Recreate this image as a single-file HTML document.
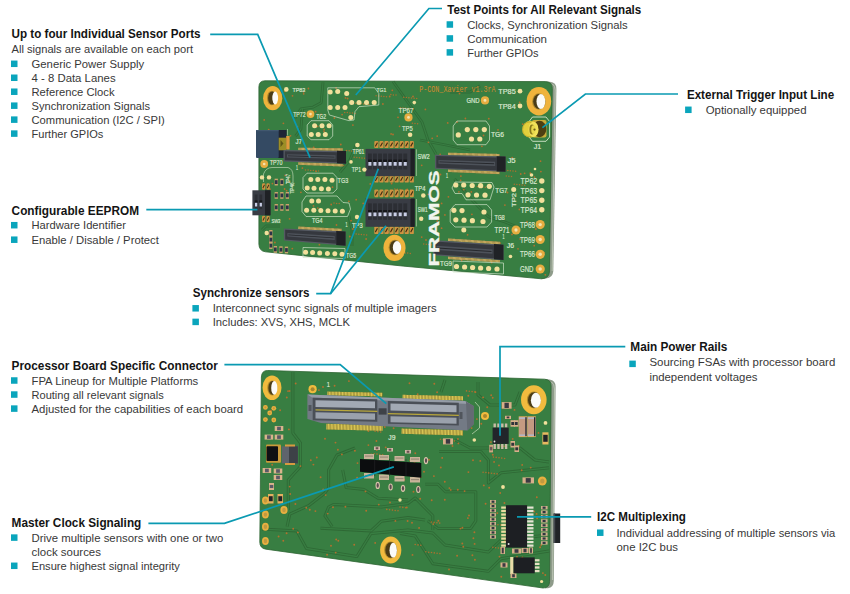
<!DOCTYPE html>
<html><head><meta charset="utf-8"><style>
html,body{margin:0;padding:0;background:#fff;}
body{width:850px;height:594px;overflow:hidden;}
svg{display:block;font-family:"Liberation Sans",sans-serif;}
</style></head><body>
<svg width="850" height="594" viewBox="0 0 850 594">
<path d="M546,81.6 L550,81.7 Q556.5,82.2 556.4,89 L553.3,271 Q553,277.5 546,278.6 L541,279 Z" fill="#8e9b8a"/>
<path d="M552.5,84 Q555.3,86 555.2,90 L552.2,271" fill="none" stroke="#bfc8b8" stroke-width="0.9"/>
<path d="M265,80.8 L545,81.6 Q552.4,81.8 552.3,88.5 L549.4,272 Q549,278.3 541.5,278.8 Q403,266.9 265.5,251.8 Q259,251 258.9,244 L258.9,87 Q259,80.8 265,80.8 Z" fill="#387e42" stroke="#2d6432" stroke-width="0.8"/>
<g fill="none" stroke="#2c6231" stroke-width="2.8" stroke-linejoin="round" opacity="0.7"><path d="M393,81.5 L412,108 L422,122 L428,140 L436,154"/><path d="M323,82.4 L321.2,102.7 L313.2,107.1 L300.9,108.9 L295,118"/><path d="M302.6,108 L300.9,129.2 L295.6,136.2"/><path d="M454.6,179 L470,198 L488.5,216.8 L505,222 L520,228"/><path d="M349,216 L352,230 L352,246"/><path d="M480,86 L470,92 L450,92"/><path d="M262,230 L266,226 L280,226"/><path d="M356,145 L350,160 L340,172"/><path d="M420,140 L446,145 L470,150"/></g>
<g fill="none" stroke="#387e42" stroke-width="1.2" stroke-linejoin="round"><path d="M393,81.5 L412,108 L422,122 L428,140 L436,154"/><path d="M323,82.4 L321.2,102.7 L313.2,107.1 L300.9,108.9 L295,118"/><path d="M302.6,108 L300.9,129.2 L295.6,136.2"/><path d="M454.6,179 L470,198 L488.5,216.8 L505,222 L520,228"/><path d="M349,216 L352,230 L352,246"/><path d="M480,86 L470,92 L450,92"/><path d="M262,230 L266,226 L280,226"/><path d="M356,145 L350,160 L340,172"/><path d="M420,140 L446,145 L470,150"/></g>
<circle cx="391.6" cy="183.5" r="0.9" fill="#c06f2c" opacity="0.9"/>
<circle cx="524.6" cy="173.3" r="0.9" fill="#c06f2c" opacity="0.9"/>
<circle cx="407.2" cy="189.3" r="0.9" fill="#c06f2c" opacity="0.9"/>
<circle cx="316.1" cy="171.3" r="0.9" fill="#c06f2c" opacity="0.9"/>
<circle cx="441.6" cy="228.2" r="0.9" fill="#c06f2c" opacity="0.9"/>
<circle cx="290.5" cy="135.8" r="0.9" fill="#c06f2c" opacity="0.9"/>
<circle cx="289.6" cy="218.8" r="0.9" fill="#c06f2c" opacity="0.9"/>
<circle cx="459.5" cy="93.6" r="0.9" fill="#c06f2c" opacity="0.9"/>
<circle cx="541.0" cy="268.5" r="0.9" fill="#c06f2c" opacity="0.9"/>
<circle cx="448.4" cy="196.8" r="0.9" fill="#c06f2c" opacity="0.9"/>
<circle cx="308.4" cy="88.5" r="0.9" fill="#c06f2c" opacity="0.9"/>
<circle cx="413.0" cy="96.5" r="0.9" fill="#c06f2c" opacity="0.9"/>
<circle cx="317.6" cy="126.4" r="0.9" fill="#c06f2c" opacity="0.9"/>
<circle cx="272.5" cy="161.3" r="0.9" fill="#c06f2c" opacity="0.9"/>
<circle cx="388.2" cy="232.5" r="0.9" fill="#c06f2c" opacity="0.9"/>
<circle cx="410.4" cy="198.8" r="0.9" fill="#c06f2c" opacity="0.9"/>
<circle cx="404.9" cy="202.3" r="0.9" fill="#c06f2c" opacity="0.9"/>
<circle cx="393.0" cy="134.5" r="0.9" fill="#c06f2c" opacity="0.9"/>
<circle cx="545.3" cy="274.8" r="0.9" fill="#c06f2c" opacity="0.9"/>
<circle cx="500.9" cy="217.1" r="0.9" fill="#c06f2c" opacity="0.9"/>
<circle cx="352.9" cy="125.1" r="0.9" fill="#c06f2c" opacity="0.9"/>
<circle cx="345.5" cy="97.9" r="0.9" fill="#c06f2c" opacity="0.9"/>
<circle cx="480.1" cy="159.3" r="0.9" fill="#c06f2c" opacity="0.9"/>
<circle cx="502.7" cy="157.6" r="0.9" fill="#c06f2c" opacity="0.9"/>
<circle cx="534.2" cy="245.7" r="0.9" fill="#c06f2c" opacity="0.9"/>
<circle cx="264.2" cy="119.9" r="0.9" fill="#c06f2c" opacity="0.9"/>
<circle cx="520.7" cy="174.0" r="0.9" fill="#c06f2c" opacity="0.9"/>
<circle cx="540.5" cy="161.2" r="0.9" fill="#c06f2c" opacity="0.9"/>
<circle cx="284.6" cy="189.0" r="0.9" fill="#c06f2c" opacity="0.9"/>
<circle cx="483.5" cy="135.5" r="0.9" fill="#c06f2c" opacity="0.9"/>
<circle cx="288.6" cy="140.5" r="0.9" fill="#c06f2c" opacity="0.9"/>
<circle cx="535.9" cy="229.0" r="0.9" fill="#c06f2c" opacity="0.9"/>
<circle cx="297.3" cy="126.6" r="0.9" fill="#c06f2c" opacity="0.9"/>
<circle cx="292.5" cy="95.8" r="0.9" fill="#c06f2c" opacity="0.9"/>
<circle cx="488.8" cy="118.7" r="0.9" fill="#c06f2c" opacity="0.9"/>
<circle cx="421.7" cy="165.3" r="0.9" fill="#c06f2c" opacity="0.9"/>
<circle cx="317.8" cy="208.1" r="0.9" fill="#c06f2c" opacity="0.9"/>
<circle cx="300.9" cy="192.3" r="0.9" fill="#c06f2c" opacity="0.9"/>
<circle cx="296.9" cy="155.3" r="0.9" fill="#c06f2c" opacity="0.9"/>
<circle cx="324.0" cy="131.2" r="0.9" fill="#c06f2c" opacity="0.9"/>
<circle cx="537.8" cy="237.7" r="0.9" fill="#c06f2c" opacity="0.9"/>
<circle cx="349.8" cy="236.5" r="0.9" fill="#c06f2c" opacity="0.9"/>
<circle cx="323.4" cy="152.0" r="0.9" fill="#c06f2c" opacity="0.9"/>
<circle cx="504.9" cy="205.1" r="0.9" fill="#c06f2c" opacity="0.9"/>
<circle cx="292.3" cy="248.6" r="0.9" fill="#c06f2c" opacity="0.9"/>
<circle cx="324.1" cy="129.3" r="0.9" fill="#c06f2c" opacity="0.9"/>
<circle cx="481.9" cy="146.3" r="0.9" fill="#c06f2c" opacity="0.9"/>
<circle cx="347.6" cy="98.5" r="0.9" fill="#c06f2c" opacity="0.9"/>
<circle cx="289.4" cy="181.6" r="0.9" fill="#c06f2c" opacity="0.9"/>
<circle cx="332.5" cy="187.2" r="0.9" fill="#c06f2c" opacity="0.9"/>
<circle cx="368.8" cy="163.9" r="0.9" fill="#c06f2c" opacity="0.9"/>
<circle cx="534.5" cy="177.2" r="0.9" fill="#c06f2c" opacity="0.9"/>
<circle cx="426.0" cy="240.0" r="0.9" fill="#c06f2c" opacity="0.9"/>
<circle cx="315.6" cy="111.7" r="0.9" fill="#c06f2c" opacity="0.9"/>
<circle cx="520.2" cy="239.0" r="0.9" fill="#c06f2c" opacity="0.9"/>
<circle cx="334.4" cy="118.0" r="0.9" fill="#c06f2c" opacity="0.9"/>
<circle cx="472.5" cy="257.5" r="0.9" fill="#c06f2c" opacity="0.9"/>
<circle cx="319.4" cy="244.7" r="0.9" fill="#c06f2c" opacity="0.9"/>
<circle cx="512.8" cy="198.5" r="0.9" fill="#c06f2c" opacity="0.9"/>
<circle cx="382.9" cy="104.0" r="0.9" fill="#c06f2c" opacity="0.9"/>
<circle cx="274.9" cy="242.5" r="0.9" fill="#c06f2c" opacity="0.9"/>
<circle cx="331.2" cy="204.5" r="0.9" fill="#c06f2c" opacity="0.9"/>
<circle cx="336.5" cy="225.0" r="0.9" fill="#c06f2c" opacity="0.9"/>
<circle cx="432.2" cy="138.3" r="0.9" fill="#c06f2c" opacity="0.9"/>
<circle cx="313.5" cy="205.9" r="0.9" fill="#c06f2c" opacity="0.9"/>
<circle cx="283.4" cy="123.3" r="0.9" fill="#c06f2c" opacity="0.9"/>
<circle cx="421.7" cy="237.1" r="0.9" fill="#c06f2c" opacity="0.9"/>
<circle cx="437.2" cy="136.1" r="0.9" fill="#c06f2c" opacity="0.9"/>
<circle cx="522.7" cy="124.2" r="0.9" fill="#c06f2c" opacity="0.9"/>
<circle cx="268.7" cy="129.6" r="0.9" fill="#c06f2c" opacity="0.9"/>
<circle cx="389.7" cy="96.5" r="0.9" fill="#c06f2c" opacity="0.9"/>
<circle cx="313.7" cy="147.4" r="0.9" fill="#c06f2c" opacity="0.9"/>
<circle cx="425.4" cy="109.4" r="0.9" fill="#c06f2c" opacity="0.9"/>
<circle cx="366.1" cy="239.0" r="0.9" fill="#c06f2c" opacity="0.9"/>
<circle cx="540.5" cy="210.3" r="0.9" fill="#c06f2c" opacity="0.9"/>
<circle cx="458.9" cy="191.8" r="0.9" fill="#c06f2c" opacity="0.9"/>
<circle cx="303.6" cy="91.8" r="0.9" fill="#c06f2c" opacity="0.9"/>
<circle cx="269.0" cy="233.5" r="0.9" fill="#c06f2c" opacity="0.9"/>
<circle cx="461.7" cy="260.5" r="0.9" fill="#c06f2c" opacity="0.9"/>
<circle cx="270.0" cy="189.1" r="0.9" fill="#c06f2c" opacity="0.9"/>
<circle cx="400.0" cy="213.9" r="0.9" fill="#c06f2c" opacity="0.9"/>
<circle cx="353.9" cy="256.4" r="0.9" fill="#c06f2c" opacity="0.9"/>
<circle cx="285.2" cy="175.4" r="0.9" fill="#c06f2c" opacity="0.9"/>
<circle cx="471.8" cy="250.1" r="0.9" fill="#c06f2c" opacity="0.9"/>
<circle cx="471.9" cy="214.3" r="0.9" fill="#c06f2c" opacity="0.9"/>
<circle cx="487.7" cy="254.2" r="0.9" fill="#c06f2c" opacity="0.9"/>
<circle cx="363.2" cy="203.4" r="0.9" fill="#c06f2c" opacity="0.9"/>
<circle cx="518.0" cy="248.8" r="0.9" fill="#c06f2c" opacity="0.9"/>
<circle cx="381.6" cy="223.0" r="0.9" fill="#c06f2c" opacity="0.9"/>
<circle cx="507.5" cy="192.5" r="0.9" fill="#c06f2c" opacity="0.9"/>
<circle cx="440.2" cy="154.5" r="0.9" fill="#c06f2c" opacity="0.9"/>
<circle cx="428.3" cy="194.3" r="0.9" fill="#c06f2c" opacity="0.9"/>
<circle cx="286.6" cy="190.7" r="0.9" fill="#c06f2c" opacity="0.9"/>
<circle cx="544.1" cy="252.7" r="0.9" fill="#c06f2c" opacity="0.9"/>
<circle cx="469.4" cy="156.7" r="0.9" fill="#c06f2c" opacity="0.9"/>
<circle cx="471.3" cy="191.9" r="0.9" fill="#c06f2c" opacity="0.9"/>
<circle cx="388.2" cy="231.8" r="0.9" fill="#c06f2c" opacity="0.9"/>
<circle cx="287.6" cy="208.9" r="0.9" fill="#c06f2c" opacity="0.9"/>
<circle cx="272.4" cy="183.6" r="0.9" fill="#c06f2c" opacity="0.9"/>
<circle cx="399.6" cy="126.3" r="0.9" fill="#c06f2c" opacity="0.9"/>
<circle cx="460.9" cy="176.1" r="0.9" fill="#c06f2c" opacity="0.9"/>
<circle cx="437.3" cy="250.6" r="0.9" fill="#c06f2c" opacity="0.9"/>
<circle cx="336.1" cy="87.9" r="0.9" fill="#c06f2c" opacity="0.9"/>
<circle cx="348.9" cy="201.3" r="0.9" fill="#c06f2c" opacity="0.9"/>
<circle cx="321.1" cy="114.4" r="0.9" fill="#c06f2c" opacity="0.9"/>
<circle cx="519.4" cy="209.4" r="0.9" fill="#c06f2c" opacity="0.9"/>
<circle cx="388.6" cy="241.1" r="0.9" fill="#c06f2c" opacity="0.9"/>
<circle cx="356.2" cy="199.7" r="0.9" fill="#c06f2c" opacity="0.9"/>
<circle cx="320.0" cy="158.0" r="0.9" fill="#c06f2c" opacity="0.9"/>
<circle cx="491.3" cy="254.4" r="0.9" fill="#c06f2c" opacity="0.9"/>
<circle cx="512.2" cy="157.6" r="0.9" fill="#c06f2c" opacity="0.9"/>
<circle cx="428.4" cy="142.3" r="0.9" fill="#c06f2c" opacity="0.9"/>
<circle cx="302.4" cy="168.1" r="0.9" fill="#c06f2c" opacity="0.9"/>
<circle cx="500.1" cy="243.1" r="0.9" fill="#c06f2c" opacity="0.9"/>
<circle cx="464.6" cy="258.5" r="0.9" fill="#c06f2c" opacity="0.9"/>
<circle cx="342.1" cy="114.6" r="0.9" fill="#c06f2c" opacity="0.9"/>
<circle cx="391.1" cy="133.9" r="0.9" fill="#c06f2c" opacity="0.9"/>
<circle cx="324.4" cy="155.4" r="0.9" fill="#c06f2c" opacity="0.9"/>
<circle cx="440.5" cy="174.5" r="0.9" fill="#c06f2c" opacity="0.9"/>
<circle cx="352.9" cy="229.0" r="0.9" fill="#c06f2c" opacity="0.9"/>
<circle cx="540.9" cy="171.6" r="0.9" fill="#c06f2c" opacity="0.9"/>
<circle cx="285.1" cy="91.2" r="0.9" fill="#c06f2c" opacity="0.9"/>
<circle cx="510.1" cy="93.7" r="0.9" fill="#c06f2c" opacity="0.9"/>
<circle cx="463.8" cy="189.6" r="0.9" fill="#c06f2c" opacity="0.9"/>
<circle cx="351.1" cy="220.7" r="0.9" fill="#c06f2c" opacity="0.9"/>
<circle cx="269.4" cy="108.0" r="0.9" fill="#c06f2c" opacity="0.9"/>
<circle cx="392.3" cy="90.3" r="0.9" fill="#c06f2c" opacity="0.9"/>
<circle cx="498.0" cy="129.9" r="0.9" fill="#c06f2c" opacity="0.9"/>
<circle cx="303.7" cy="93.8" r="0.9" fill="#c06f2c" opacity="0.9"/>
<circle cx="441.4" cy="166.0" r="0.9" fill="#c06f2c" opacity="0.9"/>
<circle cx="441.6" cy="203.4" r="0.9" fill="#c06f2c" opacity="0.9"/>
<circle cx="491.7" cy="262.6" r="0.9" fill="#c06f2c" opacity="0.9"/>
<circle cx="457.0" cy="122.0" r="0.9" fill="#c06f2c" opacity="0.9"/>
<circle cx="398.0" cy="117.3" r="0.9" fill="#c06f2c" opacity="0.9"/>
<circle cx="267.0" cy="162.4" r="0.9" fill="#c06f2c" opacity="0.9"/>
<circle cx="465.4" cy="118.5" r="0.9" fill="#c06f2c" opacity="0.9"/>
<circle cx="340.8" cy="144.5" r="0.9" fill="#c06f2c" opacity="0.9"/>
<circle cx="460.6" cy="180.3" r="0.9" fill="#c06f2c" opacity="0.9"/>
<circle cx="437.3" cy="221.2" r="0.9" fill="#c06f2c" opacity="0.9"/>
<circle cx="375.0" cy="222.7" r="0.9" fill="#c06f2c" opacity="0.9"/>
<circle cx="519.6" cy="102.3" r="0.9" fill="#c06f2c" opacity="0.9"/>
<circle cx="527.0" cy="221.7" r="0.9" fill="#c06f2c" opacity="0.9"/>
<circle cx="300.6" cy="160.9" r="0.9" fill="#c06f2c" opacity="0.9"/>
<circle cx="440.4" cy="249.0" r="0.9" fill="#c06f2c" opacity="0.9"/>
<circle cx="370.3" cy="183.9" r="0.9" fill="#c06f2c" opacity="0.9"/>
<circle cx="512.0" cy="234.4" r="0.9" fill="#c06f2c" opacity="0.9"/>
<circle cx="530.3" cy="173.2" r="0.9" fill="#c06f2c" opacity="0.9"/>
<circle cx="447.7" cy="122.9" r="0.9" fill="#c06f2c" opacity="0.9"/>
<circle cx="467.6" cy="234.8" r="0.9" fill="#c06f2c" opacity="0.9"/>
<circle cx="444.9" cy="214.9" r="0.9" fill="#c06f2c" opacity="0.9"/>
<circle cx="321.8" cy="230.6" r="0.75" fill="#c06f2c" opacity="0.85"/>
<circle cx="324.4" cy="230.9" r="0.75" fill="#c06f2c" opacity="0.85"/>
<circle cx="327.0" cy="231.1" r="0.75" fill="#c06f2c" opacity="0.85"/>
<circle cx="514.3" cy="184.3" r="0.75" fill="#c06f2c" opacity="0.85"/>
<circle cx="516.9" cy="184.5" r="0.75" fill="#c06f2c" opacity="0.85"/>
<circle cx="519.5" cy="184.8" r="0.75" fill="#c06f2c" opacity="0.85"/>
<circle cx="522.1" cy="185.0" r="0.75" fill="#c06f2c" opacity="0.85"/>
<circle cx="524.7" cy="185.3" r="0.75" fill="#c06f2c" opacity="0.85"/>
<circle cx="334.0" cy="203.1" r="0.75" fill="#c06f2c" opacity="0.85"/>
<circle cx="336.6" cy="203.4" r="0.75" fill="#c06f2c" opacity="0.85"/>
<circle cx="339.2" cy="203.6" r="0.75" fill="#c06f2c" opacity="0.85"/>
<circle cx="355.8" cy="103.2" r="0.75" fill="#c06f2c" opacity="0.85"/>
<circle cx="358.4" cy="103.5" r="0.75" fill="#c06f2c" opacity="0.85"/>
<circle cx="361.0" cy="103.7" r="0.75" fill="#c06f2c" opacity="0.85"/>
<circle cx="363.6" cy="104.0" r="0.75" fill="#c06f2c" opacity="0.85"/>
<circle cx="366.2" cy="104.2" r="0.75" fill="#c06f2c" opacity="0.85"/>
<circle cx="368.8" cy="104.5" r="0.75" fill="#c06f2c" opacity="0.85"/>
<circle cx="354.2" cy="157.2" r="0.75" fill="#c06f2c" opacity="0.85"/>
<circle cx="356.8" cy="157.5" r="0.75" fill="#c06f2c" opacity="0.85"/>
<circle cx="359.4" cy="157.7" r="0.75" fill="#c06f2c" opacity="0.85"/>
<circle cx="362.0" cy="158.0" r="0.75" fill="#c06f2c" opacity="0.85"/>
<circle cx="364.6" cy="158.2" r="0.75" fill="#c06f2c" opacity="0.85"/>
<circle cx="390.8" cy="94.6" r="0.75" fill="#c06f2c" opacity="0.85"/>
<circle cx="393.4" cy="94.9" r="0.75" fill="#c06f2c" opacity="0.85"/>
<circle cx="396.0" cy="95.1" r="0.75" fill="#c06f2c" opacity="0.85"/>
<circle cx="376.1" cy="95.7" r="0.75" fill="#c06f2c" opacity="0.85"/>
<circle cx="378.7" cy="95.9" r="0.75" fill="#c06f2c" opacity="0.85"/>
<circle cx="381.3" cy="96.2" r="0.75" fill="#c06f2c" opacity="0.85"/>
<circle cx="383.9" cy="96.4" r="0.75" fill="#c06f2c" opacity="0.85"/>
<circle cx="386.5" cy="96.7" r="0.75" fill="#c06f2c" opacity="0.85"/>
<circle cx="441.0" cy="244.1" r="0.75" fill="#c06f2c" opacity="0.85"/>
<circle cx="443.6" cy="244.3" r="0.75" fill="#c06f2c" opacity="0.85"/>
<circle cx="446.2" cy="244.6" r="0.75" fill="#c06f2c" opacity="0.85"/>
<circle cx="448.8" cy="244.8" r="0.75" fill="#c06f2c" opacity="0.85"/>
<circle cx="451.4" cy="245.1" r="0.75" fill="#c06f2c" opacity="0.85"/>
<circle cx="454.0" cy="245.3" r="0.75" fill="#c06f2c" opacity="0.85"/>
<circle cx="305.5" cy="169.9" r="0.75" fill="#c06f2c" opacity="0.85"/>
<circle cx="308.1" cy="170.1" r="0.75" fill="#c06f2c" opacity="0.85"/>
<circle cx="310.7" cy="170.4" r="0.75" fill="#c06f2c" opacity="0.85"/>
<circle cx="313.3" cy="170.6" r="0.75" fill="#c06f2c" opacity="0.85"/>
<circle cx="315.9" cy="170.9" r="0.75" fill="#c06f2c" opacity="0.85"/>
<circle cx="318.5" cy="171.1" r="0.75" fill="#c06f2c" opacity="0.85"/>
<circle cx="506.3" cy="176.1" r="0.75" fill="#c06f2c" opacity="0.85"/>
<circle cx="508.9" cy="176.3" r="0.75" fill="#c06f2c" opacity="0.85"/>
<circle cx="511.5" cy="176.6" r="0.75" fill="#c06f2c" opacity="0.85"/>
<circle cx="459.0" cy="164.7" r="0.75" fill="#c06f2c" opacity="0.85"/>
<circle cx="461.6" cy="165.0" r="0.75" fill="#c06f2c" opacity="0.85"/>
<circle cx="464.2" cy="165.2" r="0.75" fill="#c06f2c" opacity="0.85"/>
<circle cx="466.8" cy="165.5" r="0.75" fill="#c06f2c" opacity="0.85"/>
<circle cx="469.4" cy="165.7" r="0.75" fill="#c06f2c" opacity="0.85"/>
<circle cx="477.5" cy="186.5" r="0.75" fill="#c06f2c" opacity="0.85"/>
<circle cx="480.1" cy="186.7" r="0.75" fill="#c06f2c" opacity="0.85"/>
<circle cx="482.7" cy="187.0" r="0.75" fill="#c06f2c" opacity="0.85"/>
<circle cx="485.3" cy="187.2" r="0.75" fill="#c06f2c" opacity="0.85"/>
<circle cx="399.7" cy="228.4" r="0.75" fill="#c06f2c" opacity="0.85"/>
<circle cx="402.3" cy="228.7" r="0.75" fill="#c06f2c" opacity="0.85"/>
<circle cx="404.9" cy="228.9" r="0.75" fill="#c06f2c" opacity="0.85"/>
<circle cx="407.5" cy="229.2" r="0.75" fill="#c06f2c" opacity="0.85"/>
<circle cx="410.1" cy="229.4" r="0.75" fill="#c06f2c" opacity="0.85"/>
<circle cx="346.5" cy="150.5" r="0.75" fill="#c06f2c" opacity="0.85"/>
<circle cx="349.1" cy="150.8" r="0.75" fill="#c06f2c" opacity="0.85"/>
<circle cx="351.7" cy="151.0" r="0.75" fill="#c06f2c" opacity="0.85"/>
<circle cx="354.3" cy="151.3" r="0.75" fill="#c06f2c" opacity="0.85"/>
<circle cx="344.7" cy="112.4" r="0.75" fill="#c06f2c" opacity="0.85"/>
<circle cx="347.3" cy="112.6" r="0.75" fill="#c06f2c" opacity="0.85"/>
<circle cx="349.9" cy="112.9" r="0.75" fill="#c06f2c" opacity="0.85"/>
<circle cx="352.5" cy="113.1" r="0.75" fill="#c06f2c" opacity="0.85"/>
<circle cx="355.1" cy="113.4" r="0.75" fill="#c06f2c" opacity="0.85"/>
<circle cx="412.4" cy="123.2" r="0.75" fill="#c06f2c" opacity="0.85"/>
<circle cx="415.0" cy="123.5" r="0.75" fill="#c06f2c" opacity="0.85"/>
<circle cx="417.6" cy="123.7" r="0.75" fill="#c06f2c" opacity="0.85"/>
<circle cx="394.8" cy="189.0" r="0.75" fill="#c06f2c" opacity="0.85"/>
<circle cx="397.4" cy="189.3" r="0.75" fill="#c06f2c" opacity="0.85"/>
<circle cx="400.0" cy="189.5" r="0.75" fill="#c06f2c" opacity="0.85"/>
<circle cx="403.7" cy="97.2" r="0.75" fill="#c06f2c" opacity="0.85"/>
<circle cx="406.3" cy="97.5" r="0.75" fill="#c06f2c" opacity="0.85"/>
<circle cx="408.9" cy="97.7" r="0.75" fill="#c06f2c" opacity="0.85"/>
<circle cx="411.5" cy="98.0" r="0.75" fill="#c06f2c" opacity="0.85"/>
<circle cx="414.1" cy="98.2" r="0.75" fill="#c06f2c" opacity="0.85"/>
<circle cx="416.7" cy="98.5" r="0.75" fill="#c06f2c" opacity="0.85"/>
<circle cx="405.1" cy="252.9" r="0.75" fill="#c06f2c" opacity="0.85"/>
<circle cx="407.7" cy="253.1" r="0.75" fill="#c06f2c" opacity="0.85"/>
<circle cx="410.3" cy="253.4" r="0.75" fill="#c06f2c" opacity="0.85"/>
<circle cx="391.7" cy="202.8" r="0.75" fill="#c06f2c" opacity="0.85"/>
<circle cx="394.3" cy="203.1" r="0.75" fill="#c06f2c" opacity="0.85"/>
<circle cx="396.9" cy="203.3" r="0.75" fill="#c06f2c" opacity="0.85"/>
<circle cx="502.6" cy="170.0" r="0.75" fill="#c06f2c" opacity="0.85"/>
<circle cx="505.2" cy="170.3" r="0.75" fill="#c06f2c" opacity="0.85"/>
<circle cx="507.8" cy="170.5" r="0.75" fill="#c06f2c" opacity="0.85"/>
<circle cx="510.4" cy="170.8" r="0.75" fill="#c06f2c" opacity="0.85"/>
<circle cx="513.0" cy="171.0" r="0.75" fill="#c06f2c" opacity="0.85"/>
<circle cx="515.6" cy="171.3" r="0.75" fill="#c06f2c" opacity="0.85"/>
<circle cx="335.8" cy="164.6" r="0.75" fill="#c06f2c" opacity="0.85"/>
<circle cx="338.4" cy="164.9" r="0.75" fill="#c06f2c" opacity="0.85"/>
<circle cx="341.0" cy="165.1" r="0.75" fill="#c06f2c" opacity="0.85"/>
<circle cx="343.6" cy="165.4" r="0.75" fill="#c06f2c" opacity="0.85"/>
<circle cx="353.6" cy="233.7" r="0.75" fill="#c06f2c" opacity="0.85"/>
<circle cx="356.2" cy="233.9" r="0.75" fill="#c06f2c" opacity="0.85"/>
<circle cx="358.8" cy="234.2" r="0.75" fill="#c06f2c" opacity="0.85"/>
<circle cx="361.4" cy="234.4" r="0.75" fill="#c06f2c" opacity="0.85"/>
<circle cx="364.0" cy="234.7" r="0.75" fill="#c06f2c" opacity="0.85"/>
<circle cx="366.6" cy="234.9" r="0.75" fill="#c06f2c" opacity="0.85"/>
<circle cx="400.3" cy="107.8" r="0.75" fill="#c06f2c" opacity="0.85"/>
<circle cx="402.9" cy="108.1" r="0.75" fill="#c06f2c" opacity="0.85"/>
<circle cx="405.5" cy="108.3" r="0.75" fill="#c06f2c" opacity="0.85"/>
<circle cx="408.1" cy="108.6" r="0.75" fill="#c06f2c" opacity="0.85"/>
<circle cx="410.7" cy="108.8" r="0.75" fill="#c06f2c" opacity="0.85"/>
<circle cx="413.3" cy="109.1" r="0.75" fill="#c06f2c" opacity="0.85"/>
<circle cx="423.7" cy="244.0" r="0.75" fill="#c06f2c" opacity="0.85"/>
<circle cx="426.3" cy="244.3" r="0.75" fill="#c06f2c" opacity="0.85"/>
<circle cx="428.9" cy="244.5" r="0.75" fill="#c06f2c" opacity="0.85"/>
<circle cx="431.5" cy="244.8" r="0.75" fill="#c06f2c" opacity="0.85"/>
<circle cx="444.9" cy="254.8" r="0.75" fill="#c06f2c" opacity="0.85"/>
<circle cx="447.5" cy="255.0" r="0.75" fill="#c06f2c" opacity="0.85"/>
<circle cx="450.1" cy="255.3" r="0.75" fill="#c06f2c" opacity="0.85"/>
<ellipse cx="272.7" cy="98.2" rx="9.6" ry="12.1" fill="#efb33c"/>
<ellipse cx="271.8" cy="98" rx="4.8" ry="7.3" fill="#b08a2c"/>
<ellipse cx="272.1" cy="98" rx="4.0" ry="6.6" fill="#4a3c16"/>
<ellipse cx="275.2" cy="98" rx="2.9" ry="6.5" fill="#fbfbf8"/>
<ellipse cx="538.9" cy="101.2" rx="12.3" ry="14.2" fill="#efb33c"/>
<ellipse cx="538.9" cy="101.5" rx="6.8" ry="8.3" fill="#b08a2c"/>
<ellipse cx="539.1999999999999" cy="101.5" rx="6.0" ry="7.6000000000000005" fill="#4a3c16"/>
<ellipse cx="540.9" cy="101.5" rx="4.4" ry="7.5" fill="#fbfbf8"/>
<ellipse cx="394.5" cy="247.9" rx="11.1" ry="13.1" fill="#efb33c"/>
<ellipse cx="394.9" cy="247.5" rx="6.3" ry="7.7" fill="#b08a2c"/>
<ellipse cx="395.2" cy="247.5" rx="5.5" ry="7.0" fill="#4a3c16"/>
<ellipse cx="397" cy="247.5" rx="4.2" ry="6.4" fill="#fbfbf8"/>
<rect x="277.8" y="130" width="8.8" height="28" fill="#1e2535"/>
<rect x="256" y="130" width="22.7" height="28" rx="1" fill="#344a63"/>
<rect x="256" y="130" width="22.7" height="1.2" fill="#41586f"/>
<rect x="278.7" y="137.7" width="7.6" height="12.6" fill="#9c8e26"/>
<polygon points="280.5,140 283.5,143.5 280.5,147" fill="#5e5616"/>
<rect x="286.2" y="136" width="3.4" height="13.5" fill="#e09a3c"/>
<line x1="287.5" y1="129" x2="287.5" y2="135.5" stroke="#c7dcbc" stroke-width="0.6"/>
<polygon points="298.50,147.64 342.80,148.35 342.80,150.95 298.50,150.24" fill="#8a7436"/>
<line x1="298.5" y1="148.94" x2="342.8" y2="149.65" stroke="#dcc070" stroke-width="2.6" stroke-dasharray="0.7 0.5"/>
<polygon points="298.50,162.25 342.80,163.88 342.80,166.48 298.50,164.85" fill="#8a7436"/>
<line x1="298.5" y1="163.55" x2="342.8" y2="165.18" stroke="#dcc070" stroke-width="2.6" stroke-dasharray="0.7 0.5"/>
<polygon points="283.50,150.00 346.00,151.00 346.00,163.70 283.50,161.40" fill="#555a63"/>
<polygon points="284.80,151.32 337.00,152.16 337.00,162.17 284.80,160.25" fill="#35383e"/>
<polygon points="287.00,154.19 335.50,155.33 335.50,158.82 287.00,157.40" fill="#4d525a"/>
<polygon points="288.00,155.47 334.50,156.67 334.50,157.42 288.00,156.16" fill="#26282c"/>
<polygon points="337.00,150.86 346.00,151.00 346.00,163.70 337.00,163.37" fill="#202226"/>
<polygon points="298.50,226.56 341.80,228.80 341.80,231.40 298.50,229.16" fill="#8a7436"/>
<line x1="298.5" y1="227.86" x2="341.8" y2="230.10" stroke="#dcc070" stroke-width="2.6" stroke-dasharray="0.7 0.5"/>
<polygon points="283.90,228.40 345.60,231.60 345.60,245.80 283.90,240.60" fill="#555a63"/>
<polygon points="285.20,229.77 336.20,232.41 336.20,243.81 285.20,239.51" fill="#35383e"/>
<polygon points="287.40,233.01 334.70,236.02 334.70,239.90 287.40,236.46" fill="#4d525a"/>
<polygon points="288.40,234.44 333.70,237.48 333.70,238.30 288.40,235.18" fill="#26282c"/>
<polygon points="336.20,231.11 345.60,231.60 345.60,245.80 336.20,245.01" fill="#202226"/>
<polygon points="448.00,152.63 499.70,153.95 499.70,156.55 448.00,155.23" fill="#8a7436"/>
<line x1="448" y1="153.93" x2="499.7" y2="155.25" stroke="#dcc070" stroke-width="2.6" stroke-dasharray="0.7 0.5"/>
<polygon points="448.00,169.35 499.70,171.55 499.70,174.15 448.00,171.95" fill="#8a7436"/>
<line x1="448" y1="170.65" x2="499.7" y2="172.85" stroke="#dcc070" stroke-width="2.6" stroke-dasharray="0.7 0.5"/>
<polygon points="435.00,154.70 505.60,156.50 505.60,171.80 435.00,168.80" fill="#555a63"/>
<polygon points="436.30,156.03 496.60,157.57 496.60,170.22 436.30,167.66" fill="#35383e"/>
<polygon points="438.50,159.89 495.10,161.68 495.10,165.91 438.50,163.85" fill="#4d525a"/>
<polygon points="439.50,161.48 494.10,163.31 494.10,164.21 439.50,162.33" fill="#26282c"/>
<polygon points="496.60,156.27 505.60,156.50 505.60,171.80 496.60,171.42" fill="#202226"/>
<polygon points="448.20,238.41 500.00,241.87 500.00,244.47 448.20,241.01" fill="#8a7436"/>
<line x1="448.2" y1="239.71" x2="500" y2="243.17" stroke="#dcc070" stroke-width="2.6" stroke-dasharray="0.7 0.5"/>
<polygon points="448.20,256.51 500.00,259.97 500.00,262.57 448.20,259.11" fill="#8a7436"/>
<line x1="448.2" y1="257.81" x2="500" y2="261.27" stroke="#dcc070" stroke-width="2.6" stroke-dasharray="0.7 0.5"/>
<polygon points="433.00,240.00 503.50,244.70 503.50,260.00 433.00,255.30" fill="#555a63"/>
<polygon points="434.30,241.39 494.00,245.37 494.00,258.17 434.30,254.19" fill="#35383e"/>
<polygon points="436.50,245.74 492.50,249.47 492.50,253.76 436.50,250.03" fill="#4d525a"/>
<polygon points="437.50,247.49 491.50,251.09 491.50,252.01 437.50,248.41" fill="#26282c"/>
<polygon points="494.00,244.07 503.50,244.70 503.50,260.00 494.00,259.37" fill="#202226"/>
<rect x="374.30" y="140.90" width="4.2" height="7.2" rx="1.2" fill="#cf9341"/>
<polygon points="377.03,142.34 377.87,143.06 375.77,146.66 374.93,145.94" fill="#3c2a12"/>
<rect x="374.30" y="175.40" width="4.2" height="7.2" rx="1.2" fill="#cf9341"/>
<polygon points="377.03,176.84 377.87,177.56 375.77,181.16 374.93,180.44" fill="#3c2a12"/>
<rect x="379.35" y="140.90" width="4.2" height="7.2" rx="1.2" fill="#cf9341"/>
<polygon points="382.08,142.34 382.92,143.06 380.82,146.66 379.98,145.94" fill="#3c2a12"/>
<rect x="379.35" y="175.40" width="4.2" height="7.2" rx="1.2" fill="#cf9341"/>
<polygon points="382.08,176.84 382.92,177.56 380.82,181.16 379.98,180.44" fill="#3c2a12"/>
<rect x="384.40" y="140.90" width="4.2" height="7.2" rx="1.2" fill="#cf9341"/>
<polygon points="387.13,142.34 387.97,143.06 385.87,146.66 385.03,145.94" fill="#3c2a12"/>
<rect x="384.40" y="175.40" width="4.2" height="7.2" rx="1.2" fill="#cf9341"/>
<polygon points="387.13,176.84 387.97,177.56 385.87,181.16 385.03,180.44" fill="#3c2a12"/>
<rect x="389.45" y="140.90" width="4.2" height="7.2" rx="1.2" fill="#cf9341"/>
<polygon points="392.18,142.34 393.02,143.06 390.92,146.66 390.08,145.94" fill="#3c2a12"/>
<rect x="389.45" y="175.40" width="4.2" height="7.2" rx="1.2" fill="#cf9341"/>
<polygon points="392.18,176.84 393.02,177.56 390.92,181.16 390.08,180.44" fill="#3c2a12"/>
<rect x="394.50" y="140.90" width="4.2" height="7.2" rx="1.2" fill="#cf9341"/>
<polygon points="397.23,142.34 398.07,143.06 395.97,146.66 395.13,145.94" fill="#3c2a12"/>
<rect x="394.50" y="175.40" width="4.2" height="7.2" rx="1.2" fill="#cf9341"/>
<polygon points="397.23,176.84 398.07,177.56 395.97,181.16 395.13,180.44" fill="#3c2a12"/>
<rect x="399.55" y="140.90" width="4.2" height="7.2" rx="1.2" fill="#cf9341"/>
<polygon points="402.28,142.34 403.12,143.06 401.02,146.66 400.18,145.94" fill="#3c2a12"/>
<rect x="399.55" y="175.40" width="4.2" height="7.2" rx="1.2" fill="#cf9341"/>
<polygon points="402.28,176.84 403.12,177.56 401.02,181.16 400.18,180.44" fill="#3c2a12"/>
<rect x="404.60" y="140.90" width="4.2" height="7.2" rx="1.2" fill="#cf9341"/>
<polygon points="407.33,142.34 408.17,143.06 406.07,146.66 405.23,145.94" fill="#3c2a12"/>
<rect x="404.60" y="175.40" width="4.2" height="7.2" rx="1.2" fill="#cf9341"/>
<polygon points="407.33,176.84 408.17,177.56 406.07,181.16 405.23,180.44" fill="#3c2a12"/>
<rect x="409.65" y="140.90" width="4.2" height="7.2" rx="1.2" fill="#cf9341"/>
<polygon points="412.38,142.34 413.22,143.06 411.12,146.66 410.28,145.94" fill="#3c2a12"/>
<rect x="409.65" y="175.40" width="4.2" height="7.2" rx="1.2" fill="#cf9341"/>
<polygon points="412.38,176.84 413.22,177.56 411.12,181.16 410.28,180.44" fill="#3c2a12"/>
<rect x="365.5" y="148.9" width="49.2" height="27.3" fill="#393c44"/>
<rect x="410.5" y="148.9" width="4.2" height="27.3" fill="#1f2125"/>
<rect x="368.00" y="153.54" width="3.8" height="15.83" fill="#2c2e34"/>
<rect x="368.00" y="159.60" width="3.8" height="2.4" fill="#141518"/>
<rect x="368.38" y="162.00" width="3.04" height="3.7" fill="#c9cee6"/>
<rect x="373.05" y="153.54" width="3.8" height="15.83" fill="#2c2e34"/>
<rect x="373.05" y="159.60" width="3.8" height="2.4" fill="#141518"/>
<rect x="373.43" y="162.00" width="3.04" height="3.7" fill="#c9cee6"/>
<rect x="378.10" y="153.54" width="3.8" height="15.83" fill="#2c2e34"/>
<rect x="378.10" y="159.60" width="3.8" height="2.4" fill="#141518"/>
<rect x="378.48" y="162.00" width="3.04" height="3.7" fill="#c9cee6"/>
<rect x="383.15" y="153.54" width="3.8" height="15.83" fill="#2c2e34"/>
<rect x="383.15" y="159.60" width="3.8" height="2.4" fill="#141518"/>
<rect x="383.53" y="162.00" width="3.04" height="3.7" fill="#c9cee6"/>
<rect x="388.20" y="153.54" width="3.8" height="15.83" fill="#2c2e34"/>
<rect x="388.20" y="159.60" width="3.8" height="2.4" fill="#141518"/>
<rect x="388.58" y="162.00" width="3.04" height="3.7" fill="#c9cee6"/>
<rect x="393.25" y="153.54" width="3.8" height="15.83" fill="#2c2e34"/>
<rect x="393.25" y="159.60" width="3.8" height="2.4" fill="#141518"/>
<rect x="393.63" y="162.00" width="3.04" height="3.7" fill="#c9cee6"/>
<rect x="398.30" y="153.54" width="3.8" height="15.83" fill="#2c2e34"/>
<rect x="398.30" y="159.60" width="3.8" height="2.4" fill="#141518"/>
<rect x="398.68" y="162.00" width="3.04" height="3.7" fill="#c9cee6"/>
<rect x="403.35" y="153.54" width="3.8" height="15.83" fill="#2c2e34"/>
<rect x="403.35" y="159.60" width="3.8" height="2.4" fill="#141518"/>
<rect x="403.73" y="162.00" width="3.04" height="3.7" fill="#c9cee6"/>
<rect x="374.30" y="189.50" width="4.2" height="7.8" rx="1.2" fill="#cf9341"/>
<polygon points="377.03,191.06 377.87,191.84 375.77,195.74 374.93,194.96" fill="#3c2a12"/>
<rect x="374.30" y="226.30" width="4.2" height="7.8" rx="1.2" fill="#cf9341"/>
<polygon points="377.03,227.86 377.87,228.64 375.77,232.54 374.93,231.76" fill="#3c2a12"/>
<rect x="379.35" y="189.50" width="4.2" height="7.8" rx="1.2" fill="#cf9341"/>
<polygon points="382.08,191.06 382.92,191.84 380.82,195.74 379.98,194.96" fill="#3c2a12"/>
<rect x="379.35" y="226.30" width="4.2" height="7.8" rx="1.2" fill="#cf9341"/>
<polygon points="382.08,227.86 382.92,228.64 380.82,232.54 379.98,231.76" fill="#3c2a12"/>
<rect x="384.40" y="189.50" width="4.2" height="7.8" rx="1.2" fill="#cf9341"/>
<polygon points="387.13,191.06 387.97,191.84 385.87,195.74 385.03,194.96" fill="#3c2a12"/>
<rect x="384.40" y="226.30" width="4.2" height="7.8" rx="1.2" fill="#cf9341"/>
<polygon points="387.13,227.86 387.97,228.64 385.87,232.54 385.03,231.76" fill="#3c2a12"/>
<rect x="389.45" y="189.50" width="4.2" height="7.8" rx="1.2" fill="#cf9341"/>
<polygon points="392.18,191.06 393.02,191.84 390.92,195.74 390.08,194.96" fill="#3c2a12"/>
<rect x="389.45" y="226.30" width="4.2" height="7.8" rx="1.2" fill="#cf9341"/>
<polygon points="392.18,227.86 393.02,228.64 390.92,232.54 390.08,231.76" fill="#3c2a12"/>
<rect x="394.50" y="189.50" width="4.2" height="7.8" rx="1.2" fill="#cf9341"/>
<polygon points="397.23,191.06 398.07,191.84 395.97,195.74 395.13,194.96" fill="#3c2a12"/>
<rect x="394.50" y="226.30" width="4.2" height="7.8" rx="1.2" fill="#cf9341"/>
<polygon points="397.23,227.86 398.07,228.64 395.97,232.54 395.13,231.76" fill="#3c2a12"/>
<rect x="399.55" y="189.50" width="4.2" height="7.8" rx="1.2" fill="#cf9341"/>
<polygon points="402.28,191.06 403.12,191.84 401.02,195.74 400.18,194.96" fill="#3c2a12"/>
<rect x="399.55" y="226.30" width="4.2" height="7.8" rx="1.2" fill="#cf9341"/>
<polygon points="402.28,227.86 403.12,228.64 401.02,232.54 400.18,231.76" fill="#3c2a12"/>
<rect x="404.60" y="189.50" width="4.2" height="7.8" rx="1.2" fill="#cf9341"/>
<polygon points="407.33,191.06 408.17,191.84 406.07,195.74 405.23,194.96" fill="#3c2a12"/>
<rect x="404.60" y="226.30" width="4.2" height="7.8" rx="1.2" fill="#cf9341"/>
<polygon points="407.33,227.86 408.17,228.64 406.07,232.54 405.23,231.76" fill="#3c2a12"/>
<rect x="409.65" y="189.50" width="4.2" height="7.8" rx="1.2" fill="#cf9341"/>
<polygon points="412.38,191.06 413.22,191.84 411.12,195.74 410.28,194.96" fill="#3c2a12"/>
<rect x="409.65" y="226.30" width="4.2" height="7.8" rx="1.2" fill="#cf9341"/>
<polygon points="412.38,227.86 413.22,228.64 411.12,232.54 410.28,231.76" fill="#3c2a12"/>
<rect x="365.5" y="198.6" width="49.2" height="28.2" fill="#393c44"/>
<rect x="410.5" y="198.6" width="4.2" height="28.2" fill="#1f2125"/>
<rect x="368.00" y="203.39" width="3.8" height="16.36" fill="#2c2e34"/>
<rect x="368.00" y="210.10" width="3.8" height="2.4" fill="#141518"/>
<rect x="368.38" y="212.50" width="3.04" height="3.7" fill="#c9cee6"/>
<rect x="373.05" y="203.39" width="3.8" height="16.36" fill="#2c2e34"/>
<rect x="373.05" y="210.10" width="3.8" height="2.4" fill="#141518"/>
<rect x="373.43" y="212.50" width="3.04" height="3.7" fill="#c9cee6"/>
<rect x="378.10" y="203.39" width="3.8" height="16.36" fill="#2c2e34"/>
<rect x="378.10" y="210.10" width="3.8" height="2.4" fill="#141518"/>
<rect x="378.48" y="212.50" width="3.04" height="3.7" fill="#c9cee6"/>
<rect x="383.15" y="203.39" width="3.8" height="16.36" fill="#2c2e34"/>
<rect x="383.15" y="210.10" width="3.8" height="2.4" fill="#141518"/>
<rect x="383.53" y="212.50" width="3.04" height="3.7" fill="#c9cee6"/>
<rect x="388.20" y="203.39" width="3.8" height="16.36" fill="#2c2e34"/>
<rect x="388.20" y="210.10" width="3.8" height="2.4" fill="#141518"/>
<rect x="388.58" y="212.50" width="3.04" height="3.7" fill="#c9cee6"/>
<rect x="393.25" y="203.39" width="3.8" height="16.36" fill="#2c2e34"/>
<rect x="393.25" y="210.10" width="3.8" height="2.4" fill="#141518"/>
<rect x="393.63" y="212.50" width="3.04" height="3.7" fill="#c9cee6"/>
<rect x="398.30" y="203.39" width="3.8" height="16.36" fill="#2c2e34"/>
<rect x="398.30" y="210.10" width="3.8" height="2.4" fill="#141518"/>
<rect x="398.68" y="212.50" width="3.04" height="3.7" fill="#c9cee6"/>
<rect x="403.35" y="203.39" width="3.8" height="16.36" fill="#2c2e34"/>
<rect x="403.35" y="210.10" width="3.8" height="2.4" fill="#141518"/>
<rect x="403.73" y="212.50" width="3.04" height="3.7" fill="#c9cee6"/>
<line x1="416.4" y1="149.3" x2="416.4" y2="176" stroke="#c7dcbc" stroke-width="0.6"/>
<line x1="416.4" y1="199" x2="416.4" y2="226.5" stroke="#c7dcbc" stroke-width="0.6"/>
<rect x="262.00" y="183.30" width="3.3" height="6.5" rx="1.2" fill="#cf9341"/>
<polygon points="264.14,184.60 264.81,185.25 263.15,188.50 262.50,187.85" fill="#3c2a12"/>
<rect x="262.00" y="215.70" width="3.3" height="6.5" rx="1.2" fill="#cf9341"/>
<polygon points="264.14,217.00 264.81,217.65 263.15,220.90 262.50,220.25" fill="#3c2a12"/>
<rect x="266.40" y="183.30" width="3.3" height="6.5" rx="1.2" fill="#cf9341"/>
<polygon points="268.54,184.60 269.20,185.25 267.55,188.50 266.89,187.85" fill="#3c2a12"/>
<rect x="266.40" y="215.70" width="3.3" height="6.5" rx="1.2" fill="#cf9341"/>
<polygon points="268.54,217.00 269.20,217.65 267.55,220.90 266.89,220.25" fill="#3c2a12"/>
<rect x="252.4" y="190.3" width="18.1" height="25" fill="#393c44"/>
<rect x="265.0" y="190.3" width="5.5" height="25" fill="#1f2125"/>
<rect x="254.70" y="194.55" width="2.8" height="14.50" fill="#2c2e34"/>
<rect x="254.70" y="200.40" width="2.8" height="2.4" fill="#141518"/>
<rect x="254.98" y="202.80" width="2.24" height="3.7" fill="#c9cee6"/>
<rect x="259.40" y="194.55" width="2.8" height="14.50" fill="#2c2e34"/>
<rect x="259.40" y="200.40" width="2.8" height="2.4" fill="#141518"/>
<rect x="259.68" y="202.80" width="2.24" height="3.7" fill="#c9cee6"/>
<polygon points="327.8,87.8 374.7,87.8 378.8,93.5 378.8,105 359,106.7 355,111.6 354,120 349,120.7 329.4,115 327.8,110" fill="none" stroke="#d3e6cb" stroke-width="0.8" opacity="0.85"/>
<circle cx="330.2" cy="91.9" r="2.5" fill="#f2e09c"/>
<circle cx="337.7" cy="91.6" r="2.5" fill="#f2e09c"/>
<circle cx="346.7" cy="93.5" r="2.5" fill="#f2e09c"/>
<circle cx="351.7" cy="102.6" r="2.5" fill="#f2e09c"/>
<circle cx="359" cy="102.6" r="2.5" fill="#f2e09c"/>
<circle cx="366.5" cy="102.6" r="2.5" fill="#f2e09c"/>
<circle cx="374.2" cy="102.6" r="2.5" fill="#f2e09c"/>
<circle cx="330.2" cy="107.5" r="2.5" fill="#f2e09c"/>
<circle cx="337.7" cy="107.5" r="2.5" fill="#f2e09c"/>
<circle cx="345" cy="107.5" r="2.5" fill="#f2e09c"/>
<circle cx="350.8" cy="117.4" r="2.5" fill="#f2e09c"/>
<polygon points="311,120.7 329,120.7 332.7,125 332.7,136 329,139.7 311,139.7 307.2,136 307.2,125" fill="none" stroke="#d3e6cb" stroke-width="0.8" opacity="0.85"/>
<circle cx="314.6" cy="125.7" r="2.5" fill="#f2e09c"/>
<circle cx="322" cy="125.7" r="2.5" fill="#f2e09c"/>
<circle cx="329.1" cy="125.7" r="2.5" fill="#f2e09c"/>
<circle cx="311.3" cy="134.4" r="2.5" fill="#f2e09c"/>
<circle cx="318.2" cy="134.4" r="2.5" fill="#f2e09c"/>
<circle cx="325.3" cy="134.4" r="2.5" fill="#f2e09c"/>
<polygon points="307,173.2 333,173.2 336.9,177.5 336.9,189 333,193 307,193 303,189 303,177.5" fill="none" stroke="#d3e6cb" stroke-width="0.8" opacity="0.85"/>
<circle cx="310.8" cy="179.5" r="2.5" fill="#f2e09c"/>
<circle cx="317.8" cy="179.5" r="2.5" fill="#f2e09c"/>
<circle cx="324.9" cy="179.5" r="2.5" fill="#f2e09c"/>
<circle cx="332" cy="180.2" r="2.5" fill="#f2e09c"/>
<circle cx="307.2" cy="188" r="2.5" fill="#f2e09c"/>
<circle cx="314" cy="188.3" r="2.5" fill="#f2e09c"/>
<circle cx="321.4" cy="188.7" r="2.5" fill="#f2e09c"/>
<circle cx="328.4" cy="189.1" r="2.5" fill="#f2e09c"/>
<polygon points="306,196 337,196 343,202.5 349,203 350.5,209 347.5,216.5 306,216.5 302,211.5 302,202" fill="none" stroke="#d3e6cb" stroke-width="0.8" opacity="0.85"/>
<circle cx="311.8" cy="201" r="2.5" fill="#f2e09c"/>
<circle cx="318.5" cy="201" r="2.5" fill="#f2e09c"/>
<circle cx="306.6" cy="210.3" r="2.5" fill="#f2e09c"/>
<circle cx="313.8" cy="210.3" r="2.5" fill="#f2e09c"/>
<circle cx="320.8" cy="210.5" r="2.5" fill="#f2e09c"/>
<circle cx="328" cy="210.8" r="2.5" fill="#f2e09c"/>
<circle cx="335.2" cy="211" r="2.5" fill="#f2e09c"/>
<circle cx="342.4" cy="211.2" r="2.5" fill="#f2e09c"/>
<polygon points="303,247.5 345,248.5 345,258.5 303,257.5" fill="none" stroke="#d3e6cb" stroke-width="0.8" opacity="0.85"/>
<circle cx="305.6" cy="252.2" r="2.5" fill="#f2e09c"/>
<circle cx="312.6" cy="252.6" r="2.5" fill="#f2e09c"/>
<circle cx="319.7" cy="253" r="2.5" fill="#f2e09c"/>
<circle cx="327.4" cy="253.4" r="2.5" fill="#f2e09c"/>
<circle cx="334.8" cy="253.8" r="2.5" fill="#f2e09c"/>
<circle cx="342" cy="254.2" r="2.5" fill="#f2e09c"/>
<polygon points="457,121 486,121 489.5,126 489.5,140 486,144.7 457,144.7 453.2,140 453.2,126" fill="none" stroke="#d3e6cb" stroke-width="0.8" opacity="0.85"/>
<circle cx="467.3" cy="129.6" r="2.6" fill="#f2e09c"/>
<circle cx="475.8" cy="129.6" r="2.6" fill="#f2e09c"/>
<circle cx="484.3" cy="129.6" r="2.6" fill="#f2e09c"/>
<circle cx="458.3" cy="134.9" r="2.6" fill="#f2e09c"/>
<circle cx="471.5" cy="139" r="2.6" fill="#f2e09c"/>
<circle cx="479.8" cy="139" r="2.6" fill="#f2e09c"/>
<polygon points="455,182 492,182.5 494,187 490,199.8 466,199.8 462,193.5 455,193.5 452,188" fill="none" stroke="#d3e6cb" stroke-width="0.8" opacity="0.85"/>
<circle cx="455.8" cy="185" r="2.6" fill="#f2e09c"/>
<circle cx="463.7" cy="185" r="2.6" fill="#f2e09c"/>
<circle cx="472.2" cy="185.5" r="2.6" fill="#f2e09c"/>
<circle cx="480.6" cy="185.7" r="2.6" fill="#f2e09c"/>
<circle cx="489.3" cy="186.3" r="2.6" fill="#f2e09c"/>
<circle cx="468" cy="194.8" r="2.6" fill="#f2e09c"/>
<circle cx="476.5" cy="195" r="2.6" fill="#f2e09c"/>
<circle cx="485" cy="195.2" r="2.6" fill="#f2e09c"/>
<polygon points="455,204.6 487,204.6 491.6,210 491.6,222 487,227 455,227 450.2,222 450.2,210" fill="none" stroke="#d3e6cb" stroke-width="0.8" opacity="0.85"/>
<circle cx="453.9" cy="210.3" r="2.6" fill="#f2e09c"/>
<circle cx="462" cy="210.6" r="2.6" fill="#f2e09c"/>
<circle cx="484" cy="212" r="2.6" fill="#f2e09c"/>
<circle cx="455.8" cy="219.8" r="2.6" fill="#f2e09c"/>
<circle cx="464" cy="220.2" r="2.6" fill="#f2e09c"/>
<circle cx="472.4" cy="220.7" r="2.6" fill="#f2e09c"/>
<circle cx="483" cy="221.5" r="2.6" fill="#f2e09c"/>
<circle cx="463.8" cy="230" r="2.5" fill="#f2e09c"/>
<polygon points="453,261 503.5,263 503.5,274 453,272" fill="none" stroke="#d3e6cb" stroke-width="0.8" opacity="0.85"/>
<circle cx="456.5" cy="266.5" r="2.6" fill="#f2e09c"/>
<circle cx="464.6" cy="267" r="2.6" fill="#f2e09c"/>
<circle cx="472.6" cy="267.5" r="2.6" fill="#f2e09c"/>
<circle cx="480.6" cy="268" r="2.6" fill="#f2e09c"/>
<circle cx="488.6" cy="268.5" r="2.6" fill="#f2e09c"/>
<circle cx="497" cy="269" r="2.6" fill="#f2e09c"/>
<path d="M263.5,182 L263.5,174 Q266,167.5 272,167.5 L288,167.5 Q293,169 293,176 L293,182" fill="none" stroke="#c7dcbc" stroke-width="0.8" opacity="0.8"/>
<circle cx="286.3" cy="89.4" r="2.3" fill="#f2e09c"/>
<text x="292.4" y="92" font-size="6" fill="#d9e6d0" stroke="#d9e6d0" stroke-width="0.2" text-anchor="start" textLength="13" lengthAdjust="spacingAndGlyphs">TP83</text>
<circle cx="310.5" cy="114.1" r="3.9" fill="#e6ad40"/>
<circle cx="310.5" cy="114.1" r="1.32" fill="#f4e4ae"/>
<text x="305.5" y="117.1" font-size="7.0" fill="#d9e6d0" stroke="#d9e6d0" stroke-width="0.2" text-anchor="end" textLength="12.3" lengthAdjust="spacingAndGlyphs">TP72</text>
<text x="316.2" y="119" font-size="7.0" fill="#d9e6d0" stroke="#d9e6d0" stroke-width="0.2" text-anchor="start" textLength="9.9" lengthAdjust="spacingAndGlyphs">TG2</text>
<text x="376.4" y="92" font-size="6.2" fill="#d9e6d0" stroke="#d9e6d0" stroke-width="0.2" text-anchor="start" textLength="9.9" lengthAdjust="spacingAndGlyphs">TG1</text>
<circle cx="264.2" cy="164" r="3.9" fill="#e6ad40"/>
<circle cx="264.2" cy="164" r="1.32" fill="#f4e4ae"/>
<text x="269.8" y="165.4" font-size="7.0" fill="#d9e6d0" stroke="#d9e6d0" stroke-width="0.2" text-anchor="start" textLength="12.7" lengthAdjust="spacingAndGlyphs">TP70</text>
<circle cx="408.5" cy="117.4" r="4.1" fill="#e6ad40"/>
<circle cx="408.5" cy="117.4" r="1.43" fill="#f4e4ae"/>
<text x="398.6" y="112.5" font-size="7.0" fill="#d9e6d0" stroke="#d9e6d0" stroke-width="0.2" text-anchor="start" textLength="14.8" lengthAdjust="spacingAndGlyphs">TP67</text>
<circle cx="410.1" cy="134.7" r="2.3" fill="#f2e09c"/>
<text x="402" y="131.4" font-size="7.0" fill="#d9e6d0" stroke="#d9e6d0" stroke-width="0.2" text-anchor="start" textLength="10.6" lengthAdjust="spacingAndGlyphs">TP5</text>
<circle cx="414.3" cy="102.6" r="1.8" fill="#f2e09c"/>
<circle cx="485" cy="100.4" r="4.1" fill="#e6ad40"/>
<circle cx="485" cy="100.4" r="1.43" fill="#f4e4ae"/>
<text x="466.4" y="103.2" font-size="7.0" fill="#d9e6d0" stroke="#d9e6d0" stroke-width="0.2" text-anchor="start" textLength="13.2" lengthAdjust="spacingAndGlyphs">GND</text>
<circle cx="520" cy="91.2" r="2.4" fill="#f2e09c"/>
<text x="498.3" y="93.8" font-size="7.0" fill="#d9e6d0" stroke="#d9e6d0" stroke-width="0.2" text-anchor="start" textLength="17.4" lengthAdjust="spacingAndGlyphs">TP85</text>
<circle cx="520" cy="106" r="2.4" fill="#f2e09c"/>
<text x="498.3" y="109" font-size="7.0" fill="#d9e6d0" stroke="#d9e6d0" stroke-width="0.2" text-anchor="start" textLength="17.4" lengthAdjust="spacingAndGlyphs">TP84</text>
<text x="295.5" y="144" font-size="7.0" fill="#d9e6d0" stroke="#d9e6d0" stroke-width="0.2" text-anchor="start" textLength="6.5" lengthAdjust="spacingAndGlyphs">J7</text>
<text x="296" y="170" font-size="7.0" fill="#d9e6d0" stroke="#d9e6d0" stroke-width="0.2" text-anchor="start" textLength="2" lengthAdjust="spacingAndGlyphs">1</text>
<circle cx="357.4" cy="145" r="2.3" fill="#f2e09c"/>
<text x="352.4" y="154.1" font-size="7.0" fill="#d9e6d0" stroke="#d9e6d0" stroke-width="0.2" text-anchor="start" textLength="12" lengthAdjust="spacingAndGlyphs">TP61</text>
<circle cx="364.4" cy="169.6" r="2.2" fill="#f2e09c"/>
<text x="351.7" y="171.8" font-size="7.0" fill="#d9e6d0" stroke="#d9e6d0" stroke-width="0.2" text-anchor="start" textLength="9.3" lengthAdjust="spacingAndGlyphs">TP1</text>
<circle cx="351" cy="161.9" r="1.8" fill="#f2e09c"/>
<text x="417.4" y="159" font-size="7.0" fill="#d9e6d0" stroke="#d9e6d0" stroke-width="0.2" text-anchor="start" textLength="12.3" lengthAdjust="spacingAndGlyphs">SW2</text>
<text x="417.7" y="211.8" font-size="7.0" fill="#d9e6d0" stroke="#d9e6d0" stroke-width="0.2" text-anchor="start" textLength="9.8" lengthAdjust="spacingAndGlyphs">SW1</text>
<circle cx="423.3" cy="195.5" r="2.3" fill="#f2e09c"/>
<text x="414.8" y="191.3" font-size="7.0" fill="#d9e6d0" stroke="#d9e6d0" stroke-width="0.2" text-anchor="start" textLength="10.6" lengthAdjust="spacingAndGlyphs">TP4</text>
<circle cx="421.2" cy="218.8" r="2.2" fill="#f2e09c"/>
<text x="507.4" y="163" font-size="7.0" fill="#d9e6d0" stroke="#d9e6d0" stroke-width="0.2" text-anchor="start" textLength="8.2" lengthAdjust="spacingAndGlyphs">J5</text>
<text x="446" y="177.5" font-size="7.0" fill="#d9e6d0" stroke="#d9e6d0" stroke-width="0.2" text-anchor="start" textLength="2" lengthAdjust="spacingAndGlyphs">1</text>
<text x="506.7" y="248" font-size="7.0" fill="#d9e6d0" stroke="#d9e6d0" stroke-width="0.2" text-anchor="start" textLength="7.3" lengthAdjust="spacingAndGlyphs">J6</text>
<text x="502.5" y="238.5" font-size="7.0" fill="#d9e6d0" stroke="#d9e6d0" stroke-width="0.2" text-anchor="start" textLength="2" lengthAdjust="spacingAndGlyphs">1</text>
<text x="491" y="137" font-size="7.0" fill="#d9e6d0" stroke="#d9e6d0" stroke-width="0.2" text-anchor="start" textLength="13" lengthAdjust="spacingAndGlyphs">TG6</text>
<text x="495.3" y="192.5" font-size="7.0" fill="#d9e6d0" stroke="#d9e6d0" stroke-width="0.2" text-anchor="start" textLength="12.3" lengthAdjust="spacingAndGlyphs">TG7</text>
<text x="494.4" y="219.7" font-size="7.0" fill="#d9e6d0" stroke="#d9e6d0" stroke-width="0.2" text-anchor="start" textLength="10.3" lengthAdjust="spacingAndGlyphs">TG8</text>
<text x="440" y="266" font-size="7.0" fill="#d9e6d0" stroke="#d9e6d0" stroke-width="0.2" text-anchor="start" textLength="12" lengthAdjust="spacingAndGlyphs">TG9</text>
<text x="337.6" y="183" font-size="7.0" fill="#d9e6d0" stroke="#d9e6d0" stroke-width="0.2" text-anchor="start" textLength="10.6" lengthAdjust="spacingAndGlyphs">TG3</text>
<text x="312" y="223" font-size="7.0" fill="#d9e6d0" stroke="#d9e6d0" stroke-width="0.2" text-anchor="start" textLength="10.5" lengthAdjust="spacingAndGlyphs">TG4</text>
<text x="346" y="258" font-size="7.0" fill="#d9e6d0" stroke="#d9e6d0" stroke-width="0.2" text-anchor="start" textLength="10" lengthAdjust="spacingAndGlyphs">TG5</text>
<text x="352" y="228" font-size="7.0" fill="#d9e6d0" stroke="#d9e6d0" stroke-width="0.2" text-anchor="start" textLength="10.6" lengthAdjust="spacingAndGlyphs">TP3</text>
<circle cx="357" cy="217" r="2.2" fill="#f2e09c"/>
<text x="345.6" y="227" font-size="7.0" fill="#d9e6d0" stroke="#d9e6d0" stroke-width="0.2" text-anchor="start" textLength="2" lengthAdjust="spacingAndGlyphs">1</text>
<circle cx="262" cy="177.4" r="2.2" fill="#f2e09c"/>
<circle cx="269" cy="177.4" r="2.2" fill="#f2e09c"/>
<text x="271.4" y="223" font-size="6" fill="#d9e6d0" stroke="#d9e6d0" stroke-width="0.2" text-anchor="start" textLength="9" lengthAdjust="spacingAndGlyphs">SW3</text>
<text x="0" y="0" font-size="5.2" fill="#d9e6d0" stroke="#d9e6d0" stroke-width="0.2" text-anchor="start" textLength="10" lengthAdjust="spacingAndGlyphs" transform="translate(289.5,184) rotate(-90)">TP47</text>
<text x="0" y="0" font-size="5.2" fill="#d9e6d0" stroke="#d9e6d0" stroke-width="0.2" text-anchor="start" textLength="11" lengthAdjust="spacingAndGlyphs" transform="translate(293.8,193.5) rotate(-90)">TP46</text>
<text x="520.6" y="184" font-size="8.4" fill="#d9e6d0" stroke="#d9e6d0" stroke-width="0.2" text-anchor="start" textLength="16.6" lengthAdjust="spacingAndGlyphs">TP62</text>
<circle cx="541.8" cy="181" r="2.7" fill="#f2e09c"/>
<text x="520.6" y="193.6" font-size="8.4" fill="#d9e6d0" stroke="#d9e6d0" stroke-width="0.2" text-anchor="start" textLength="16.6" lengthAdjust="spacingAndGlyphs">TP63</text>
<circle cx="541.8" cy="190.6" r="2.7" fill="#f2e09c"/>
<text x="520.6" y="203.2" font-size="8.4" fill="#d9e6d0" stroke="#d9e6d0" stroke-width="0.2" text-anchor="start" textLength="16.6" lengthAdjust="spacingAndGlyphs">TP65</text>
<circle cx="541.8" cy="200.2" r="2.7" fill="#f2e09c"/>
<text x="520.6" y="212.8" font-size="8.4" fill="#d9e6d0" stroke="#d9e6d0" stroke-width="0.2" text-anchor="start" textLength="16.6" lengthAdjust="spacingAndGlyphs">TP64</text>
<circle cx="541.8" cy="209.8" r="2.7" fill="#f2e09c"/>
<circle cx="513.7" cy="189.4" r="2.5" fill="#f2e09c"/>
<text x="0" y="0" font-size="6.2" fill="#d9e6d0" stroke="#d9e6d0" stroke-width="0.2" text-anchor="start" textLength="14" lengthAdjust="spacingAndGlyphs" transform="translate(516,207) rotate(-90)">TP2</text>
<text x="520" y="227.6" font-size="8.4" fill="#d9e6d0" stroke="#d9e6d0" stroke-width="0.2" text-anchor="start" textLength="15" lengthAdjust="spacingAndGlyphs">TP68</text>
<circle cx="540.2" cy="224.6" r="4.6" fill="#e6ad40"/>
<circle cx="540.2" cy="224.6" r="1.71" fill="#f4e4ae"/>
<text x="520" y="242.5" font-size="8.4" fill="#d9e6d0" stroke="#d9e6d0" stroke-width="0.2" text-anchor="start" textLength="15" lengthAdjust="spacingAndGlyphs">TP69</text>
<circle cx="540.2" cy="239.5" r="4.6" fill="#e6ad40"/>
<circle cx="540.2" cy="239.5" r="1.71" fill="#f4e4ae"/>
<text x="520" y="257.3" font-size="8.4" fill="#d9e6d0" stroke="#d9e6d0" stroke-width="0.2" text-anchor="start" textLength="15" lengthAdjust="spacingAndGlyphs">TP66</text>
<circle cx="540.2" cy="254.3" r="4.6" fill="#e6ad40"/>
<circle cx="540.2" cy="254.3" r="1.71" fill="#f4e4ae"/>
<text x="520" y="272" font-size="8.4" fill="#d9e6d0" stroke="#d9e6d0" stroke-width="0.2" text-anchor="start" textLength="13.5" lengthAdjust="spacingAndGlyphs">GND</text>
<circle cx="540.2" cy="269" r="4.6" fill="#e6ad40"/>
<circle cx="540.2" cy="269" r="1.71" fill="#f4e4ae"/>
<circle cx="516" cy="230" r="4.5" fill="#e6ad40"/>
<circle cx="516" cy="230" r="1.65" fill="#f4e4ae"/>
<text x="509.4" y="233" font-size="8.4" fill="#d9e6d0" stroke="#d9e6d0" stroke-width="0.2" text-anchor="end" textLength="14.8" lengthAdjust="spacingAndGlyphs">TP71</text>
<circle cx="531.5" cy="175" r="1.8" fill="#f2e09c"/>
<circle cx="510.5" cy="256.5" r="1.8" fill="#f2e09c"/>
<circle cx="535" cy="169" r="1.3" fill="#f2e09c"/>
<rect x="274.6" y="178.7" width="3.3" height="6.8" fill="#c9a46c"/><rect x="274.90000000000003" y="180.2" width="2.7" height="3.8" fill="#2c3448"/>
<rect x="280.2" y="178.7" width="3.3" height="6.8" fill="#c9a46c"/><rect x="280.5" y="180.2" width="2.7" height="3.8" fill="#2c3448"/>
<rect x="274.6" y="192" width="3.3" height="6.8" fill="#c9a46c"/><rect x="274.90000000000003" y="193.5" width="2.7" height="3.8" fill="#2c3448"/>
<rect x="280.2" y="192" width="3.3" height="6.8" fill="#c9a46c"/><rect x="280.5" y="193.5" width="2.7" height="3.8" fill="#2c3448"/>
<rect x="285.7" y="192" width="3.3" height="6.8" fill="#c9a46c"/><rect x="286.0" y="193.5" width="2.7" height="3.8" fill="#2c3448"/>
<rect x="274.6" y="204" width="3.3" height="6.8" fill="#c9a46c"/><rect x="274.90000000000003" y="205.5" width="2.7" height="3.8" fill="#2c3448"/>
<rect x="280.2" y="204" width="3.3" height="6.8" fill="#c9a46c"/><rect x="280.5" y="205.5" width="2.7" height="3.8" fill="#2c3448"/>
<rect x="285.7" y="204" width="3.3" height="6.8" fill="#c9a46c"/><rect x="286.0" y="205.5" width="2.7" height="3.8" fill="#2c3448"/>
<rect x="269.2" y="230" width="3.3" height="6.8" fill="#c9a46c"/><rect x="269.5" y="231.5" width="2.7" height="3.8" fill="#2c3448"/>
<rect x="269.2" y="236.2" width="3.3" height="6.8" fill="#c9a46c"/><rect x="269.5" y="237.7" width="2.7" height="3.8" fill="#2c3448"/>
<rect x="269.2" y="242.2" width="3.3" height="6.8" fill="#c9a46c"/><rect x="269.5" y="243.7" width="2.7" height="3.8" fill="#2c3448"/>
<rect x="273.7" y="246" width="3.3" height="6.8" fill="#c9a46c"/><rect x="274.0" y="247.5" width="2.7" height="3.8" fill="#2c3448"/>
<rect x="279.3" y="246.3" width="3.3" height="6.8" fill="#c9a46c"/><rect x="279.6" y="247.8" width="2.7" height="3.8" fill="#2c3448"/>
<rect x="284.8" y="246.6" width="3.3" height="6.8" fill="#c9a46c"/><rect x="285.1" y="248.1" width="2.7" height="3.8" fill="#2c3448"/>
<circle cx="266.7" cy="233" r="2.2" fill="#f2e09c"/>
<polygon points="532.5,117 546,117 549.6,121.5 549.6,137 546,141.3 532.5,141.3 529.1,137 529.1,121.5" fill="none" stroke="#d3e6cb" stroke-width="0.9"/>
<rect x="532" y="120" width="14.5" height="17.6" rx="2" fill="#c9ad3a"/>
<ellipse cx="539.5" cy="129" rx="6.8" ry="8.2" fill="#4e3f12"/>
<ellipse cx="530.2" cy="129.4" rx="8" ry="8.4" fill="#e2cf3c"/>
<ellipse cx="529.2" cy="129.4" rx="6.6" ry="7.4" fill="none" stroke="#b9a52a" stroke-width="0.8"/>
<ellipse cx="533.5" cy="129.4" rx="5" ry="7.6" fill="#f1e25a"/>
<ellipse cx="532" cy="129.6" rx="2.6" ry="5" fill="#8a7a1c"/>
<ellipse cx="533.4" cy="129.6" rx="2.2" ry="4.4" fill="#e8d84c"/>
<circle cx="534.5" cy="129.6" r="1.1" fill="#6e5e14"/>
<text x="537.5" y="148.8" font-size="7" fill="#d9e6d0" stroke="#d9e6d0" stroke-width="0.2" text-anchor="middle" textLength="7.5" lengthAdjust="spacingAndGlyphs">J1</text>
<text x="419.3" y="92" font-size="8.4" fill="#d4892e" font-family="Liberation Mono" textLength="76.3" lengthAdjust="spacingAndGlyphs">P-CON_Xavier v1.3rA</text>
<text x="0" y="0" font-size="14.6" font-weight="bold" fill="#f2f5ee" stroke="#f2f5ee" stroke-width="0.35" textLength="96" lengthAdjust="spacingAndGlyphs" transform="translate(439.3,266.5) rotate(-90)">FRAMOS</text>
<path d="M545,379.3 L549.5,379.5 Q555.8,380.5 555.6,387 L553.8,581 Q553.6,587.6 548,588.2 L545,588.2 Z" fill="#8e9b8a"/>
<path d="M551.5,382 Q554.6,384 554.5,389 L552.6,580" fill="none" stroke="#bfc8b8" stroke-width="0.9"/>
<path d="M267.5,370.5 L544.5,379.2 Q551.2,379.6 551.1,386 L549.6,581.5 Q549.4,588 543,588 Q405,568.5 266,549.2 Q259.8,548.4 259.8,542 L261.4,377 Q261.7,370.5 267.5,370.5 Z" fill="#387e42" stroke="#2d6432" stroke-width="0.8"/>
<g fill="none" stroke="#2c6231" stroke-width="3" stroke-linejoin="round" opacity="0.75"><path d="M292.9,372 L292.9,433 L300.5,443 L300.5,466.5 L288.3,480 L288.3,510"/><path d="M262,529.1 L296.8,530.9 L306.5,548.5 L356.8,556.5 L371,533.5 L408,530 L432.8,533 L445,545 L488.4,552 L501,540 L549,535"/><path d="M287.1,526.5 L289.8,514.1 L309.2,505.3 L325,493 L328.6,487.6 L328.6,470 L337,455 L355,448"/><path d="M332.1,526.5 L325,515.9 L328.6,507 L333.9,504.4 L381.5,507 L408,503.5 L415.2,498 L432.8,515.8 L432.8,530"/><path d="M320.6,528.2 L371,530.9 L381.5,521.2 L408,517.6 L425,520"/><path d="M342.7,470 L346.2,487.6 L363.9,489.4 L378,498.2 L408,500"/><path d="M439.1,451.4 L480.8,451.4 L488.4,460.2 L488.4,483 L501,472.8 L549,467.8"/><path d="M425.3,484.2 L437.9,484.2 L445.5,491.8 L475.8,491.8 L475.8,520.8 L470.7,528.4 L437.9,528.4 L427.8,520.8"/><path d="M400,533.4 L415.2,536 L432.8,563.7 L488.4,571.3 L501,558.7 L549,551"/><path d="M445,380 L441,392"/><path d="M478,382 L478,395 L490,405 L515,405 L520,392"/><path d="M455,440 L470,448 L520,448 L535,460 L549,462"/></g>
<g fill="none" stroke="#387e42" stroke-width="1.3" stroke-linejoin="round"><path d="M292.9,372 L292.9,433 L300.5,443 L300.5,466.5 L288.3,480 L288.3,510"/><path d="M262,529.1 L296.8,530.9 L306.5,548.5 L356.8,556.5 L371,533.5 L408,530 L432.8,533 L445,545 L488.4,552 L501,540 L549,535"/><path d="M287.1,526.5 L289.8,514.1 L309.2,505.3 L325,493 L328.6,487.6 L328.6,470 L337,455 L355,448"/><path d="M332.1,526.5 L325,515.9 L328.6,507 L333.9,504.4 L381.5,507 L408,503.5 L415.2,498 L432.8,515.8 L432.8,530"/><path d="M320.6,528.2 L371,530.9 L381.5,521.2 L408,517.6 L425,520"/><path d="M342.7,470 L346.2,487.6 L363.9,489.4 L378,498.2 L408,500"/><path d="M439.1,451.4 L480.8,451.4 L488.4,460.2 L488.4,483 L501,472.8 L549,467.8"/><path d="M425.3,484.2 L437.9,484.2 L445.5,491.8 L475.8,491.8 L475.8,520.8 L470.7,528.4 L437.9,528.4 L427.8,520.8"/><path d="M400,533.4 L415.2,536 L432.8,563.7 L488.4,571.3 L501,558.7 L549,551"/><path d="M445,380 L441,392"/><path d="M478,382 L478,395 L490,405 L515,405 L520,392"/><path d="M455,440 L470,448 L520,448 L535,460 L549,462"/></g>
<circle cx="320.3" cy="417.8" r="0.95" fill="#c06f2c" opacity="0.9"/>
<circle cx="458.4" cy="443.4" r="0.95" fill="#c06f2c" opacity="0.9"/>
<circle cx="365.5" cy="491.4" r="0.95" fill="#c06f2c" opacity="0.9"/>
<circle cx="295.4" cy="504.0" r="0.95" fill="#c06f2c" opacity="0.9"/>
<circle cx="300.4" cy="466.1" r="0.95" fill="#c06f2c" opacity="0.9"/>
<circle cx="336.2" cy="413.4" r="0.95" fill="#c06f2c" opacity="0.9"/>
<circle cx="414.5" cy="461.9" r="0.95" fill="#c06f2c" opacity="0.9"/>
<circle cx="371.2" cy="454.4" r="0.95" fill="#c06f2c" opacity="0.9"/>
<circle cx="414.2" cy="410.3" r="0.95" fill="#c06f2c" opacity="0.9"/>
<circle cx="323.2" cy="489.4" r="0.95" fill="#c06f2c" opacity="0.9"/>
<circle cx="444.8" cy="481.8" r="0.95" fill="#c06f2c" opacity="0.9"/>
<circle cx="504.4" cy="503.0" r="0.95" fill="#c06f2c" opacity="0.9"/>
<circle cx="505.9" cy="428.9" r="0.95" fill="#c06f2c" opacity="0.9"/>
<circle cx="473.4" cy="538.3" r="0.95" fill="#c06f2c" opacity="0.9"/>
<circle cx="518.7" cy="446.0" r="0.95" fill="#c06f2c" opacity="0.9"/>
<circle cx="354.2" cy="544.8" r="0.95" fill="#c06f2c" opacity="0.9"/>
<circle cx="327.1" cy="554.8" r="0.95" fill="#c06f2c" opacity="0.9"/>
<circle cx="514.5" cy="409.9" r="0.95" fill="#c06f2c" opacity="0.9"/>
<circle cx="333.0" cy="507.3" r="0.95" fill="#c06f2c" opacity="0.9"/>
<circle cx="338.7" cy="395.6" r="0.95" fill="#c06f2c" opacity="0.9"/>
<circle cx="499.0" cy="465.4" r="0.95" fill="#c06f2c" opacity="0.9"/>
<circle cx="487.2" cy="407.2" r="0.95" fill="#c06f2c" opacity="0.9"/>
<circle cx="378.8" cy="504.6" r="0.95" fill="#c06f2c" opacity="0.9"/>
<circle cx="271.0" cy="410.7" r="0.95" fill="#c06f2c" opacity="0.9"/>
<circle cx="457.1" cy="555.7" r="0.95" fill="#c06f2c" opacity="0.9"/>
<circle cx="537.1" cy="407.2" r="0.95" fill="#c06f2c" opacity="0.9"/>
<circle cx="407.6" cy="521.0" r="0.95" fill="#c06f2c" opacity="0.9"/>
<circle cx="406.8" cy="507.5" r="0.95" fill="#c06f2c" opacity="0.9"/>
<circle cx="318.9" cy="390.1" r="0.95" fill="#c06f2c" opacity="0.9"/>
<circle cx="295.7" cy="383.5" r="0.95" fill="#c06f2c" opacity="0.9"/>
<circle cx="420.5" cy="477.0" r="0.95" fill="#c06f2c" opacity="0.9"/>
<circle cx="425.2" cy="408.4" r="0.95" fill="#c06f2c" opacity="0.9"/>
<circle cx="317.7" cy="413.6" r="0.95" fill="#c06f2c" opacity="0.9"/>
<circle cx="501.3" cy="576.7" r="0.95" fill="#c06f2c" opacity="0.9"/>
<circle cx="525.5" cy="402.8" r="0.95" fill="#c06f2c" opacity="0.9"/>
<circle cx="283.3" cy="540.8" r="0.95" fill="#c06f2c" opacity="0.9"/>
<circle cx="395.4" cy="520.9" r="0.95" fill="#c06f2c" opacity="0.9"/>
<circle cx="357.5" cy="463.1" r="0.95" fill="#c06f2c" opacity="0.9"/>
<circle cx="410.3" cy="460.4" r="0.95" fill="#c06f2c" opacity="0.9"/>
<circle cx="434.3" cy="383.7" r="0.95" fill="#c06f2c" opacity="0.9"/>
<circle cx="462.3" cy="543.5" r="0.95" fill="#c06f2c" opacity="0.9"/>
<circle cx="316.8" cy="457.5" r="0.95" fill="#c06f2c" opacity="0.9"/>
<circle cx="473.0" cy="460.3" r="0.95" fill="#c06f2c" opacity="0.9"/>
<circle cx="320.6" cy="406.9" r="0.95" fill="#c06f2c" opacity="0.9"/>
<circle cx="409.5" cy="383.3" r="0.95" fill="#c06f2c" opacity="0.9"/>
<circle cx="516.1" cy="541.5" r="0.95" fill="#c06f2c" opacity="0.9"/>
<circle cx="463.3" cy="546.8" r="0.95" fill="#c06f2c" opacity="0.9"/>
<circle cx="442.2" cy="457.9" r="0.95" fill="#c06f2c" opacity="0.9"/>
<circle cx="433.9" cy="476.1" r="0.95" fill="#c06f2c" opacity="0.9"/>
<circle cx="541.2" cy="545.0" r="0.95" fill="#c06f2c" opacity="0.9"/>
<circle cx="338.3" cy="540.8" r="0.95" fill="#c06f2c" opacity="0.9"/>
<circle cx="474.4" cy="532.2" r="0.95" fill="#c06f2c" opacity="0.9"/>
<circle cx="494.1" cy="461.9" r="0.95" fill="#c06f2c" opacity="0.9"/>
<circle cx="517.0" cy="557.0" r="0.95" fill="#c06f2c" opacity="0.9"/>
<circle cx="460.5" cy="528.6" r="0.95" fill="#c06f2c" opacity="0.9"/>
<circle cx="480.3" cy="460.9" r="0.95" fill="#c06f2c" opacity="0.9"/>
<circle cx="468.3" cy="395.7" r="0.95" fill="#c06f2c" opacity="0.9"/>
<circle cx="361.7" cy="463.7" r="0.95" fill="#c06f2c" opacity="0.9"/>
<circle cx="269.0" cy="437.0" r="0.95" fill="#c06f2c" opacity="0.9"/>
<circle cx="444.8" cy="499.7" r="0.95" fill="#c06f2c" opacity="0.9"/>
<circle cx="331.0" cy="545.8" r="0.95" fill="#c06f2c" opacity="0.9"/>
<circle cx="452.5" cy="446.0" r="0.95" fill="#c06f2c" opacity="0.9"/>
<circle cx="450.7" cy="489.9" r="0.95" fill="#c06f2c" opacity="0.9"/>
<circle cx="415.3" cy="453.2" r="0.95" fill="#c06f2c" opacity="0.9"/>
<circle cx="546.0" cy="513.0" r="0.95" fill="#c06f2c" opacity="0.9"/>
<circle cx="462.4" cy="527.7" r="0.95" fill="#c06f2c" opacity="0.9"/>
<circle cx="540.4" cy="388.9" r="0.95" fill="#c06f2c" opacity="0.9"/>
<circle cx="438.3" cy="520.8" r="0.95" fill="#c06f2c" opacity="0.9"/>
<circle cx="337.9" cy="449.8" r="0.95" fill="#c06f2c" opacity="0.9"/>
<circle cx="280.1" cy="410.2" r="0.95" fill="#c06f2c" opacity="0.9"/>
<circle cx="371.2" cy="397.2" r="0.95" fill="#c06f2c" opacity="0.9"/>
<circle cx="336.2" cy="539.5" r="0.95" fill="#c06f2c" opacity="0.9"/>
<circle cx="420.0" cy="475.6" r="0.95" fill="#c06f2c" opacity="0.9"/>
<circle cx="536.8" cy="497.3" r="0.95" fill="#c06f2c" opacity="0.9"/>
<circle cx="544.6" cy="512.0" r="0.95" fill="#c06f2c" opacity="0.9"/>
<circle cx="492.7" cy="397.7" r="0.95" fill="#c06f2c" opacity="0.9"/>
<circle cx="433.3" cy="524.1" r="0.95" fill="#c06f2c" opacity="0.9"/>
<circle cx="278.6" cy="536.5" r="0.95" fill="#c06f2c" opacity="0.9"/>
<circle cx="310.8" cy="460.2" r="0.95" fill="#c06f2c" opacity="0.9"/>
<circle cx="313.4" cy="464.6" r="0.95" fill="#c06f2c" opacity="0.9"/>
<circle cx="437.1" cy="392.3" r="0.95" fill="#c06f2c" opacity="0.9"/>
<circle cx="530.7" cy="467.6" r="0.95" fill="#c06f2c" opacity="0.9"/>
<circle cx="413.5" cy="491.8" r="0.95" fill="#c06f2c" opacity="0.9"/>
<circle cx="368.4" cy="431.0" r="0.95" fill="#c06f2c" opacity="0.9"/>
<circle cx="449.4" cy="488.1" r="0.95" fill="#c06f2c" opacity="0.9"/>
<circle cx="345.4" cy="506.8" r="0.95" fill="#c06f2c" opacity="0.9"/>
<circle cx="348.9" cy="381.1" r="0.95" fill="#c06f2c" opacity="0.9"/>
<circle cx="334.6" cy="385.8" r="0.95" fill="#c06f2c" opacity="0.9"/>
<circle cx="309.8" cy="509.7" r="0.95" fill="#c06f2c" opacity="0.9"/>
<circle cx="375.2" cy="542.9" r="0.95" fill="#c06f2c" opacity="0.9"/>
<circle cx="475.5" cy="392.1" r="0.95" fill="#c06f2c" opacity="0.9"/>
<circle cx="542.9" cy="573.1" r="0.95" fill="#c06f2c" opacity="0.9"/>
<circle cx="286.6" cy="533.3" r="0.95" fill="#c06f2c" opacity="0.9"/>
<circle cx="386.3" cy="467.3" r="0.95" fill="#c06f2c" opacity="0.9"/>
<circle cx="538.5" cy="432.9" r="0.95" fill="#c06f2c" opacity="0.9"/>
<circle cx="412.5" cy="554.9" r="0.95" fill="#c06f2c" opacity="0.9"/>
<circle cx="468.4" cy="472.1" r="0.95" fill="#c06f2c" opacity="0.9"/>
<circle cx="540.1" cy="547.2" r="0.95" fill="#c06f2c" opacity="0.9"/>
<circle cx="435.0" cy="402.9" r="0.95" fill="#c06f2c" opacity="0.9"/>
<circle cx="440.8" cy="467.5" r="0.95" fill="#c06f2c" opacity="0.9"/>
<circle cx="323.0" cy="387.0" r="0.95" fill="#c06f2c" opacity="0.9"/>
<circle cx="413.9" cy="403.7" r="0.95" fill="#c06f2c" opacity="0.9"/>
<circle cx="390.0" cy="502.5" r="0.95" fill="#c06f2c" opacity="0.9"/>
<circle cx="393.6" cy="428.2" r="0.95" fill="#c06f2c" opacity="0.9"/>
<circle cx="429.0" cy="459.8" r="0.95" fill="#c06f2c" opacity="0.9"/>
<circle cx="483.8" cy="485.4" r="0.95" fill="#c06f2c" opacity="0.9"/>
<circle cx="545.3" cy="575.0" r="0.95" fill="#c06f2c" opacity="0.9"/>
<circle cx="471.6" cy="428.1" r="0.95" fill="#c06f2c" opacity="0.9"/>
<circle cx="297.9" cy="532.4" r="0.95" fill="#c06f2c" opacity="0.9"/>
<circle cx="485.6" cy="503.8" r="0.95" fill="#c06f2c" opacity="0.9"/>
<circle cx="366.6" cy="428.3" r="0.95" fill="#c06f2c" opacity="0.9"/>
<circle cx="457.8" cy="489.7" r="0.95" fill="#c06f2c" opacity="0.9"/>
<circle cx="431.7" cy="500.2" r="0.95" fill="#c06f2c" opacity="0.9"/>
<circle cx="476.9" cy="419.1" r="0.95" fill="#c06f2c" opacity="0.9"/>
<circle cx="335.7" cy="552.6" r="0.95" fill="#c06f2c" opacity="0.9"/>
<circle cx="522.4" cy="557.5" r="0.95" fill="#c06f2c" opacity="0.9"/>
<circle cx="277.1" cy="386.9" r="0.95" fill="#c06f2c" opacity="0.9"/>
<circle cx="341.9" cy="454.4" r="0.95" fill="#c06f2c" opacity="0.9"/>
<circle cx="440.5" cy="400.7" r="0.95" fill="#c06f2c" opacity="0.9"/>
<circle cx="417.7" cy="394.2" r="0.95" fill="#c06f2c" opacity="0.9"/>
<circle cx="290.2" cy="494.0" r="0.95" fill="#c06f2c" opacity="0.9"/>
<circle cx="420.2" cy="498.7" r="0.95" fill="#c06f2c" opacity="0.9"/>
<circle cx="370.5" cy="466.2" r="0.95" fill="#c06f2c" opacity="0.9"/>
<circle cx="325.0" cy="438.7" r="0.95" fill="#c06f2c" opacity="0.9"/>
<circle cx="474.6" cy="543.9" r="0.95" fill="#c06f2c" opacity="0.9"/>
<circle cx="286.8" cy="397.5" r="0.95" fill="#c06f2c" opacity="0.9"/>
<circle cx="492.6" cy="504.2" r="0.95" fill="#c06f2c" opacity="0.9"/>
<circle cx="481.3" cy="423.8" r="0.95" fill="#c06f2c" opacity="0.9"/>
<circle cx="384.8" cy="427.0" r="0.95" fill="#c06f2c" opacity="0.9"/>
<circle cx="492.8" cy="454.7" r="0.95" fill="#c06f2c" opacity="0.9"/>
<circle cx="449.0" cy="569.5" r="0.95" fill="#c06f2c" opacity="0.9"/>
<circle cx="357.1" cy="477.7" r="0.95" fill="#c06f2c" opacity="0.9"/>
<circle cx="474.9" cy="559.8" r="0.95" fill="#c06f2c" opacity="0.9"/>
<circle cx="385.7" cy="447.4" r="0.95" fill="#c06f2c" opacity="0.9"/>
<circle cx="293.2" cy="528.8" r="0.95" fill="#c06f2c" opacity="0.9"/>
<circle cx="288.0" cy="391.1" r="0.95" fill="#c06f2c" opacity="0.9"/>
<circle cx="424.0" cy="471.7" r="0.95" fill="#c06f2c" opacity="0.9"/>
<circle cx="457.9" cy="438.9" r="0.95" fill="#c06f2c" opacity="0.9"/>
<circle cx="483.1" cy="397.4" r="0.95" fill="#c06f2c" opacity="0.9"/>
<circle cx="325.7" cy="495.1" r="0.95" fill="#c06f2c" opacity="0.9"/>
<circle cx="288.9" cy="429.4" r="0.95" fill="#c06f2c" opacity="0.9"/>
<circle cx="469.0" cy="515.5" r="0.95" fill="#c06f2c" opacity="0.9"/>
<circle cx="345.2" cy="404.1" r="0.95" fill="#c06f2c" opacity="0.9"/>
<circle cx="366.2" cy="510.7" r="0.95" fill="#c06f2c" opacity="0.9"/>
<circle cx="368.6" cy="400.5" r="0.95" fill="#c06f2c" opacity="0.9"/>
<circle cx="464.6" cy="491.1" r="0.95" fill="#c06f2c" opacity="0.9"/>
<circle cx="523.2" cy="569.7" r="0.95" fill="#c06f2c" opacity="0.9"/>
<circle cx="521.7" cy="470.3" r="0.95" fill="#c06f2c" opacity="0.9"/>
<circle cx="490.9" cy="442.1" r="0.95" fill="#c06f2c" opacity="0.9"/>
<circle cx="354.9" cy="450.7" r="0.95" fill="#c06f2c" opacity="0.9"/>
<circle cx="527.7" cy="561.3" r="0.95" fill="#c06f2c" opacity="0.9"/>
<circle cx="335.5" cy="442.6" r="0.95" fill="#c06f2c" opacity="0.9"/>
<circle cx="368.4" cy="445.1" r="0.95" fill="#c06f2c" opacity="0.9"/>
<circle cx="376.8" cy="450.1" r="0.95" fill="#c06f2c" opacity="0.9"/>
<circle cx="320.6" cy="477.2" r="0.95" fill="#c06f2c" opacity="0.9"/>
<circle cx="489.2" cy="487.8" r="0.95" fill="#c06f2c" opacity="0.9"/>
<circle cx="500.2" cy="493.0" r="0.95" fill="#c06f2c" opacity="0.9"/>
<circle cx="315.4" cy="511.1" r="0.95" fill="#c06f2c" opacity="0.9"/>
<circle cx="512.7" cy="438.9" r="0.95" fill="#c06f2c" opacity="0.9"/>
<circle cx="272.2" cy="464.7" r="0.95" fill="#c06f2c" opacity="0.9"/>
<circle cx="418.4" cy="486.6" r="0.95" fill="#c06f2c" opacity="0.9"/>
<circle cx="536.6" cy="513.9" r="0.95" fill="#c06f2c" opacity="0.9"/>
<circle cx="491.2" cy="395.3" r="0.95" fill="#c06f2c" opacity="0.9"/>
<circle cx="419.1" cy="527.9" r="0.95" fill="#c06f2c" opacity="0.9"/>
<circle cx="289.5" cy="391.0" r="0.95" fill="#c06f2c" opacity="0.9"/>
<circle cx="472.4" cy="555.3" r="0.95" fill="#c06f2c" opacity="0.9"/>
<circle cx="289.7" cy="486.6" r="0.95" fill="#c06f2c" opacity="0.9"/>
<circle cx="306.3" cy="507.8" r="0.95" fill="#c06f2c" opacity="0.9"/>
<circle cx="447.7" cy="428.2" r="0.95" fill="#c06f2c" opacity="0.9"/>
<circle cx="327.7" cy="513.6" r="0.95" fill="#c06f2c" opacity="0.9"/>
<circle cx="412.0" cy="522.8" r="0.95" fill="#c06f2c" opacity="0.9"/>
<circle cx="376.4" cy="441.0" r="0.95" fill="#c06f2c" opacity="0.9"/>
<circle cx="537.1" cy="518.2" r="0.95" fill="#c06f2c" opacity="0.9"/>
<circle cx="404.2" cy="479.8" r="0.95" fill="#c06f2c" opacity="0.9"/>
<circle cx="467.9" cy="518.1" r="0.95" fill="#c06f2c" opacity="0.9"/>
<circle cx="522.2" cy="464.9" r="0.95" fill="#c06f2c" opacity="0.9"/>
<circle cx="497.3" cy="513.1" r="0.95" fill="#c06f2c" opacity="0.9"/>
<circle cx="505.0" cy="541.1" r="0.95" fill="#c06f2c" opacity="0.9"/>
<circle cx="499.5" cy="556.6" r="0.95" fill="#c06f2c" opacity="0.9"/>
<circle cx="534.2" cy="511.5" r="0.95" fill="#c06f2c" opacity="0.9"/>
<circle cx="400.0" cy="507.0" r="0.8" fill="#c06f2c" opacity="0.85"/>
<circle cx="402.8" cy="507.4" r="0.8" fill="#c06f2c" opacity="0.85"/>
<circle cx="405.6" cy="507.7" r="0.8" fill="#c06f2c" opacity="0.85"/>
<circle cx="374.2" cy="453.8" r="0.8" fill="#c06f2c" opacity="0.85"/>
<circle cx="377.0" cy="454.1" r="0.8" fill="#c06f2c" opacity="0.85"/>
<circle cx="379.8" cy="454.5" r="0.8" fill="#c06f2c" opacity="0.85"/>
<circle cx="382.6" cy="454.8" r="0.8" fill="#c06f2c" opacity="0.85"/>
<circle cx="329.9" cy="407.5" r="0.8" fill="#c06f2c" opacity="0.85"/>
<circle cx="332.7" cy="407.8" r="0.8" fill="#c06f2c" opacity="0.85"/>
<circle cx="335.5" cy="408.2" r="0.8" fill="#c06f2c" opacity="0.85"/>
<circle cx="338.3" cy="408.5" r="0.8" fill="#c06f2c" opacity="0.85"/>
<circle cx="341.1" cy="408.9" r="0.8" fill="#c06f2c" opacity="0.85"/>
<circle cx="343.9" cy="409.2" r="0.8" fill="#c06f2c" opacity="0.85"/>
<circle cx="440.4" cy="439.2" r="0.8" fill="#c06f2c" opacity="0.85"/>
<circle cx="443.2" cy="439.5" r="0.8" fill="#c06f2c" opacity="0.85"/>
<circle cx="446.0" cy="439.9" r="0.8" fill="#c06f2c" opacity="0.85"/>
<circle cx="448.8" cy="440.2" r="0.8" fill="#c06f2c" opacity="0.85"/>
<circle cx="451.6" cy="440.6" r="0.8" fill="#c06f2c" opacity="0.85"/>
<circle cx="454.4" cy="440.9" r="0.8" fill="#c06f2c" opacity="0.85"/>
<circle cx="375.1" cy="431.3" r="0.8" fill="#c06f2c" opacity="0.85"/>
<circle cx="377.9" cy="431.6" r="0.8" fill="#c06f2c" opacity="0.85"/>
<circle cx="380.7" cy="432.0" r="0.8" fill="#c06f2c" opacity="0.85"/>
<circle cx="386.8" cy="509.4" r="0.8" fill="#c06f2c" opacity="0.85"/>
<circle cx="389.6" cy="509.8" r="0.8" fill="#c06f2c" opacity="0.85"/>
<circle cx="392.4" cy="510.1" r="0.8" fill="#c06f2c" opacity="0.85"/>
<circle cx="395.2" cy="510.5" r="0.8" fill="#c06f2c" opacity="0.85"/>
<circle cx="398.0" cy="510.8" r="0.8" fill="#c06f2c" opacity="0.85"/>
<circle cx="431.3" cy="522.1" r="0.8" fill="#c06f2c" opacity="0.85"/>
<circle cx="434.1" cy="522.4" r="0.8" fill="#c06f2c" opacity="0.85"/>
<circle cx="436.9" cy="522.8" r="0.8" fill="#c06f2c" opacity="0.85"/>
<circle cx="439.7" cy="523.1" r="0.8" fill="#c06f2c" opacity="0.85"/>
<circle cx="497.9" cy="524.7" r="0.8" fill="#c06f2c" opacity="0.85"/>
<circle cx="500.7" cy="525.0" r="0.8" fill="#c06f2c" opacity="0.85"/>
<circle cx="503.5" cy="525.4" r="0.8" fill="#c06f2c" opacity="0.85"/>
<circle cx="415.2" cy="544.5" r="0.8" fill="#c06f2c" opacity="0.85"/>
<circle cx="418.0" cy="544.9" r="0.8" fill="#c06f2c" opacity="0.85"/>
<circle cx="420.8" cy="545.2" r="0.8" fill="#c06f2c" opacity="0.85"/>
<circle cx="346.8" cy="413.9" r="0.8" fill="#c06f2c" opacity="0.85"/>
<circle cx="349.6" cy="414.3" r="0.8" fill="#c06f2c" opacity="0.85"/>
<circle cx="352.4" cy="414.6" r="0.8" fill="#c06f2c" opacity="0.85"/>
<circle cx="355.2" cy="415.0" r="0.8" fill="#c06f2c" opacity="0.85"/>
<circle cx="358.0" cy="415.3" r="0.8" fill="#c06f2c" opacity="0.85"/>
<circle cx="322.8" cy="419.7" r="0.8" fill="#c06f2c" opacity="0.85"/>
<circle cx="325.6" cy="420.0" r="0.8" fill="#c06f2c" opacity="0.85"/>
<circle cx="328.4" cy="420.4" r="0.8" fill="#c06f2c" opacity="0.85"/>
<circle cx="331.2" cy="420.7" r="0.8" fill="#c06f2c" opacity="0.85"/>
<circle cx="334.0" cy="421.1" r="0.8" fill="#c06f2c" opacity="0.85"/>
<circle cx="336.8" cy="421.4" r="0.8" fill="#c06f2c" opacity="0.85"/>
<circle cx="417.9" cy="420.6" r="0.8" fill="#c06f2c" opacity="0.85"/>
<circle cx="420.7" cy="421.0" r="0.8" fill="#c06f2c" opacity="0.85"/>
<circle cx="423.5" cy="421.3" r="0.8" fill="#c06f2c" opacity="0.85"/>
<circle cx="426.3" cy="421.7" r="0.8" fill="#c06f2c" opacity="0.85"/>
<circle cx="493.4" cy="457.1" r="0.8" fill="#c06f2c" opacity="0.85"/>
<circle cx="496.2" cy="457.4" r="0.8" fill="#c06f2c" opacity="0.85"/>
<circle cx="499.0" cy="457.8" r="0.8" fill="#c06f2c" opacity="0.85"/>
<circle cx="501.8" cy="458.1" r="0.8" fill="#c06f2c" opacity="0.85"/>
<circle cx="504.6" cy="458.5" r="0.8" fill="#c06f2c" opacity="0.85"/>
<circle cx="425.9" cy="551.8" r="0.8" fill="#c06f2c" opacity="0.85"/>
<circle cx="428.7" cy="552.2" r="0.8" fill="#c06f2c" opacity="0.85"/>
<circle cx="431.5" cy="552.5" r="0.8" fill="#c06f2c" opacity="0.85"/>
<circle cx="434.3" cy="552.9" r="0.8" fill="#c06f2c" opacity="0.85"/>
<circle cx="437.1" cy="553.2" r="0.8" fill="#c06f2c" opacity="0.85"/>
<circle cx="439.9" cy="553.6" r="0.8" fill="#c06f2c" opacity="0.85"/>
<circle cx="483.1" cy="472.2" r="0.8" fill="#c06f2c" opacity="0.85"/>
<circle cx="485.9" cy="472.5" r="0.8" fill="#c06f2c" opacity="0.85"/>
<circle cx="488.7" cy="472.9" r="0.8" fill="#c06f2c" opacity="0.85"/>
<circle cx="491.5" cy="473.2" r="0.8" fill="#c06f2c" opacity="0.85"/>
<circle cx="494.3" cy="473.6" r="0.8" fill="#c06f2c" opacity="0.85"/>
<circle cx="497.1" cy="473.9" r="0.8" fill="#c06f2c" opacity="0.85"/>
<circle cx="498.4" cy="445.7" r="0.8" fill="#c06f2c" opacity="0.85"/>
<circle cx="501.2" cy="446.1" r="0.8" fill="#c06f2c" opacity="0.85"/>
<circle cx="504.0" cy="446.4" r="0.8" fill="#c06f2c" opacity="0.85"/>
<circle cx="389.6" cy="419.2" r="0.8" fill="#c06f2c" opacity="0.85"/>
<circle cx="392.4" cy="419.6" r="0.8" fill="#c06f2c" opacity="0.85"/>
<circle cx="395.2" cy="419.9" r="0.8" fill="#c06f2c" opacity="0.85"/>
<circle cx="322.8" cy="402.6" r="0.8" fill="#c06f2c" opacity="0.85"/>
<circle cx="325.6" cy="403.0" r="0.8" fill="#c06f2c" opacity="0.85"/>
<circle cx="328.4" cy="403.3" r="0.8" fill="#c06f2c" opacity="0.85"/>
<circle cx="331.2" cy="403.7" r="0.8" fill="#c06f2c" opacity="0.85"/>
<circle cx="334.0" cy="404.0" r="0.8" fill="#c06f2c" opacity="0.85"/>
<circle cx="336.8" cy="404.4" r="0.8" fill="#c06f2c" opacity="0.85"/>
<circle cx="514.0" cy="534.4" r="0.8" fill="#c06f2c" opacity="0.85"/>
<circle cx="516.8" cy="534.7" r="0.8" fill="#c06f2c" opacity="0.85"/>
<circle cx="519.6" cy="535.1" r="0.8" fill="#c06f2c" opacity="0.85"/>
<circle cx="522.4" cy="535.4" r="0.8" fill="#c06f2c" opacity="0.85"/>
<circle cx="525.2" cy="535.8" r="0.8" fill="#c06f2c" opacity="0.85"/>
<circle cx="466.5" cy="390.9" r="0.8" fill="#c06f2c" opacity="0.85"/>
<circle cx="469.3" cy="391.2" r="0.8" fill="#c06f2c" opacity="0.85"/>
<circle cx="472.1" cy="391.6" r="0.8" fill="#c06f2c" opacity="0.85"/>
<circle cx="474.9" cy="391.9" r="0.8" fill="#c06f2c" opacity="0.85"/>
<circle cx="492.8" cy="547.3" r="0.8" fill="#c06f2c" opacity="0.85"/>
<circle cx="495.6" cy="547.7" r="0.8" fill="#c06f2c" opacity="0.85"/>
<circle cx="498.4" cy="548.0" r="0.8" fill="#c06f2c" opacity="0.85"/>
<circle cx="501.2" cy="548.4" r="0.8" fill="#c06f2c" opacity="0.85"/>
<circle cx="504.0" cy="548.7" r="0.8" fill="#c06f2c" opacity="0.85"/>
<circle cx="381.4" cy="423.5" r="0.8" fill="#c06f2c" opacity="0.85"/>
<circle cx="384.2" cy="423.8" r="0.8" fill="#c06f2c" opacity="0.85"/>
<circle cx="387.0" cy="424.2" r="0.8" fill="#c06f2c" opacity="0.85"/>
<circle cx="389.8" cy="424.5" r="0.8" fill="#c06f2c" opacity="0.85"/>
<circle cx="392.6" cy="424.9" r="0.8" fill="#c06f2c" opacity="0.85"/>
<circle cx="395.4" cy="425.2" r="0.8" fill="#c06f2c" opacity="0.85"/>
<ellipse cx="272" cy="387.8" rx="9.5" ry="12.3" fill="#f1bb3e"/>
<ellipse cx="272.3" cy="387.9" rx="5" ry="7.5" fill="#b08a2c"/>
<ellipse cx="272.6" cy="387.9" rx="4.2" ry="6.8" fill="#4a3c16"/>
<ellipse cx="274.3" cy="387.9" rx="3.1" ry="6.9" fill="#fbfbf8"/>
<ellipse cx="533.8" cy="399.8" rx="12.8" ry="14.5" fill="#f1bb3e"/>
<ellipse cx="533.9" cy="400" rx="7" ry="8.5" fill="#b08a2c"/>
<ellipse cx="534.1999999999999" cy="400" rx="6.2" ry="7.8" fill="#4a3c16"/>
<ellipse cx="535.9" cy="400.3" rx="5" ry="7.5" fill="#fbfbf8"/>
<ellipse cx="390.7" cy="550" rx="10.6" ry="13.6" fill="#f1bb3e"/>
<ellipse cx="390.7" cy="550" rx="6.5" ry="8.5" fill="#b08a2c"/>
<ellipse cx="391.0" cy="550" rx="5.7" ry="7.8" fill="#4a3c16"/>
<ellipse cx="393.2" cy="550.2" rx="3.7" ry="7.4" fill="#fbfbf8"/>
<polygon points="327.5,391.6 382.6,392.8 382.6,396.40000000000003 327.5,395.20000000000005" fill="#8a7a30"/>
<line x1="327.5" y1="393.40000000000003" x2="382.6" y2="394.6" stroke="#e2ce58" stroke-width="3.6" stroke-dasharray="0.9 0.55"/>
<polygon points="402.7,394.8 463,396.2 463,400.4 402.7,399.0" fill="#8a7a30"/>
<line x1="402.7" y1="396.90000000000003" x2="463" y2="398.3" stroke="#e2ce58" stroke-width="4.2" stroke-dasharray="0.9 0.55"/>
<polygon points="326.5,423.8 382.6,425.2 382.6,430.8 326.5,429.40000000000003" fill="#8a7a30"/>
<line x1="326.5" y1="426.6" x2="382.6" y2="428.0" stroke="#e2ce58" stroke-width="5.6" stroke-dasharray="0.9 0.55"/>
<polygon points="401.7,428.6 463,430.2 463,435.4 401.7,433.8" fill="#8a7a30"/>
<line x1="401.7" y1="431.20000000000005" x2="463" y2="432.8" stroke="#e2ce58" stroke-width="5.2" stroke-dasharray="0.9 0.55"/>
<polygon points="307.4,394.5 465.2,400.9 473.7,406 473.7,424.2 467.3,430.5 321,423 307.4,418.9" fill="#737a85"/>
<polygon points="307.4,394.5 465.2,400.9 470,404 312,397.5" fill="#959ca7"/>
<polygon points="312.7,397.7 377.3,399.3 377.3,421.8 312.7,420.3" fill="#4a4f57"/>
<polygon points="315.5,400.2 375,401.6 375,408.3 315.5,406.9" fill="#a2a9b4"/>
<polygon points="315.5,409.2 377.3,410.8 377.3,412 315.5,410.4" fill="#b9a83c"/>
<polygon points="315.5,412.2 375,413.6 375,419.8 315.5,418.4" fill="#9aa1ac"/>
<polygon points="387.9,401 458.8,402.8 458.8,425.6 387.9,423.8" fill="#4a4f57"/>
<polygon points="390.5,403.6 456.5,405.2 456.5,412.2 390.5,410.6" fill="#a2a9b4"/>
<polygon points="387.9,413 458.8,414.8 458.8,416 387.9,414.2" fill="#b9a83c"/>
<polygon points="390.5,416.2 456.5,417.8 456.5,423.8 390.5,422.2" fill="#9aa1ac"/>
<rect x="378.6" y="408.3" width="8" height="6.3" fill="#3e4248"/>
<rect x="308.5" y="405" width="3" height="6" fill="#50555c"/>
<rect x="459.5" y="412" width="3" height="7" fill="#50555c"/>
<polygon points="465.2,400.9 473.7,406 473.7,424.2 467.3,430.5 466,402" fill="#646a73"/>
<polyline points="475,402 479.5,407 479.5,428 472,434" fill="none" stroke="#c7dcbc" stroke-width="0.7"/>
<circle cx="312.6" cy="389.2" r="4.1" fill="#f1bb3e"/><circle cx="312.6" cy="389.2" r="2" fill="#a8862e"/>
<text x="326.5" y="386.5" font-size="6.5" fill="#e6efe0">1</text>
<circle cx="485" cy="416" r="4" fill="#f1bb3e"/><circle cx="485" cy="416" r="2" fill="#a8862e"/>
<text x="388.3" y="439.5" font-size="7" fill="#d9e6d0" stroke="#d9e6d0" stroke-width="0.2" text-anchor="start" textLength="7.2" lengthAdjust="spacingAndGlyphs">J9</text>
<circle cx="265.4" cy="407.4" r="2.4" fill="#e9b040"/><circle cx="265.4" cy="407.4" r="1.1" fill="#c59a3c"/>
<circle cx="273.8" cy="408.3" r="2.4" fill="#e9b040"/><circle cx="273.8" cy="408.3" r="1.1" fill="#c59a3c"/>
<circle cx="269.7" cy="413" r="2.4" fill="#e9b040"/><circle cx="269.7" cy="413" r="1.1" fill="#c59a3c"/>
<circle cx="265.4" cy="419.6" r="2.4" fill="#e9b040"/><circle cx="265.4" cy="419.6" r="1.1" fill="#c59a3c"/>
<circle cx="273.8" cy="420" r="2.4" fill="#e9b040"/><circle cx="273.8" cy="420" r="1.1" fill="#c59a3c"/>
<rect x="364" y="454" width="10" height="5" fill="#c9b49a"/><rect x="365" y="455.5" width="8" height="1.2" fill="#9a8a78"/>
<rect x="364" y="473" width="10" height="5.5" fill="#c9b49a"/><rect x="365" y="475" width="8" height="1.2" fill="#9a8a78"/>
<rect x="379" y="455" width="10" height="5" fill="#c9b49a"/><rect x="380" y="456.5" width="8" height="1.2" fill="#9a8a78"/>
<rect x="379" y="474.5" width="10" height="5.5" fill="#c9b49a"/><rect x="380" y="476.5" width="8" height="1.2" fill="#9a8a78"/>
<rect x="394.5" y="456" width="10" height="5" fill="#c9b49a"/><rect x="395.5" y="457.5" width="8" height="1.2" fill="#9a8a78"/>
<rect x="394.5" y="476" width="10" height="5.5" fill="#c9b49a"/><rect x="395.5" y="478" width="8" height="1.2" fill="#9a8a78"/>
<rect x="410" y="457" width="10" height="5" fill="#c9b49a"/><rect x="411" y="458.5" width="8" height="1.2" fill="#9a8a78"/>
<rect x="410" y="477" width="10" height="5.5" fill="#c9b49a"/><rect x="411" y="479" width="8" height="1.2" fill="#9a8a78"/>
<polygon points="360,458.9 421.3,463 421.3,477.7 360,471.8" fill="#0c0d0f"/>
<line x1="374.7" y1="459" x2="374.7" y2="476" stroke="#2a2c30" stroke-width="0.5"/>
<line x1="389.5" y1="459" x2="389.5" y2="476" stroke="#2a2c30" stroke-width="0.5"/>
<line x1="406" y1="459" x2="406" y2="476" stroke="#2a2c30" stroke-width="0.5"/>
<ellipse cx="377.7" cy="485.4" rx="2.2" ry="3.6" fill="#d8c4aa"/><ellipse cx="377.7" cy="485.4" rx="1.1" ry="2.4" fill="#5a4a50"/>
<ellipse cx="390.6" cy="487" rx="2.2" ry="3.6" fill="#d8c4aa"/><ellipse cx="390.6" cy="487" rx="1.1" ry="2.4" fill="#5a4a50"/>
<ellipse cx="403" cy="488.3" rx="2.2" ry="3.6" fill="#d8c4aa"/><ellipse cx="403" cy="488.3" rx="1.1" ry="2.4" fill="#5a4a50"/>
<ellipse cx="418.3" cy="489.5" rx="2.2" ry="3.6" fill="#d8c4aa"/><ellipse cx="418.3" cy="489.5" rx="1.1" ry="2.4" fill="#5a4a50"/>
<ellipse cx="426" cy="460.6" rx="2.2" ry="3.6" fill="#d8c4aa"/><ellipse cx="426" cy="460.6" rx="1.1" ry="2.4" fill="#5a4a50"/>
<rect x="374" y="446.5" width="6" height="3.5" fill="#d0b8a8"/>
<rect x="375.68" y="447.2" width="2.64" height="2.10" fill="#6a5050"/>
<rect x="387" y="448" width="6" height="3.5" fill="#d0b8a8"/>
<rect x="388.68" y="448.7" width="2.64" height="2.10" fill="#6a5050"/>
<rect x="405" y="450" width="6" height="3.5" fill="#d0b8a8"/>
<rect x="406.68" y="450.7" width="2.64" height="2.10" fill="#6a5050"/>
<rect x="266" y="444.6" width="15" height="18.2" rx="1" fill="#c99a3a"/><rect x="266.5" y="446.3" width="11.5" height="14.7" rx="0.8" fill="#0f1013"/>
<rect x="281.8" y="446.3" width="16.1" height="17.1" fill="#5f646c"/><rect x="289" y="446.3" width="8.9" height="17.1" fill="#3d4147"/>
<rect x="285" y="444.5" width="10" height="2" fill="#d89a40"/><rect x="285" y="463" width="10" height="2" fill="#d89a40"/>
<rect x="274.7" y="426" width="8.6" height="5" fill="#d8b48c"/>
<rect x="277.11" y="426.7" width="3.78" height="3.60" fill="#5a5a66"/>
<rect x="264.6" y="434.6" width="8.6" height="5" fill="#d8b48c"/>
<rect x="267.01" y="435.3" width="3.78" height="3.60" fill="#5a5a66"/>
<rect x="274.7" y="434.6" width="8.6" height="5" fill="#d8b48c"/>
<rect x="277.11" y="435.3" width="3.78" height="3.60" fill="#5a5a66"/>
<rect x="262.6" y="468" width="8.6" height="5" fill="#d8b48c"/>
<rect x="265.01" y="468.7" width="3.78" height="3.60" fill="#5a5a66"/>
<rect x="273.7" y="468.5" width="8.6" height="5" fill="#d8b48c"/>
<rect x="276.11" y="469.2" width="3.78" height="3.60" fill="#5a5a66"/>
<rect x="273.7" y="475" width="8.6" height="5" fill="#d8b48c"/>
<rect x="276.11" y="475.7" width="3.78" height="3.60" fill="#5a5a66"/>
<rect x="268" y="494" width="5.5" height="9.5" fill="#e3b060"/><rect x="268.8" y="496.2" width="3.9" height="5" fill="#22252a"/>
<rect x="277.5" y="494" width="5.5" height="9.5" fill="#e3b060"/><rect x="278.3" y="496.2" width="3.9" height="5" fill="#22252a"/>
<rect x="269" y="483" width="5" height="7" fill="#d8b48c"/>
<rect x="269.7" y="484.96" width="3.60" height="3.08" fill="#5a5a66"/>
<ellipse cx="265.4" cy="500.5" rx="3.4" ry="4" fill="#e9b040"/><ellipse cx="265.4" cy="500.5" rx="1.7" ry="2.2" fill="#c29a40"/>
<ellipse cx="265.4" cy="514.6" rx="3.4" ry="4" fill="#e9b040"/><ellipse cx="265.4" cy="514.6" rx="1.7" ry="2.2" fill="#c29a40"/>
<ellipse cx="265.4" cy="526.8" rx="3.4" ry="4" fill="#e9b040"/><ellipse cx="265.4" cy="526.8" rx="1.7" ry="2.2" fill="#c29a40"/>
<ellipse cx="265.4" cy="541" rx="3.4" ry="4" fill="#e9b040"/><ellipse cx="265.4" cy="541" rx="1.7" ry="2.2" fill="#c29a40"/>
<ellipse cx="284" cy="510" rx="3.6" ry="4" fill="#e9b040"/><ellipse cx="284" cy="510" rx="1.8" ry="2.2" fill="#c29a40"/>
<rect x="493.5" y="423.5" width="2.4" height="4" fill="#c9bca8"/>
<rect x="493.5" y="444" width="2.4" height="5" fill="#c9bca8"/>
<rect x="497.3" y="423.5" width="2.4" height="4" fill="#c9bca8"/>
<rect x="497.3" y="444" width="2.4" height="5" fill="#c9bca8"/>
<rect x="501.1" y="423.5" width="2.4" height="4" fill="#c9bca8"/>
<rect x="501.1" y="444" width="2.4" height="5" fill="#c9bca8"/>
<rect x="504.9" y="423.5" width="2.4" height="4" fill="#c9bca8"/>
<rect x="504.9" y="444" width="2.4" height="5" fill="#c9bca8"/>
<rect x="492.6" y="427.6" width="16.1" height="16.3" fill="#22252a"/>
<circle cx="494.5" cy="441.5" r="0.9" fill="#e8e8e8"/>
<rect x="518.7" y="416.3" width="8.4" height="20.8" fill="#e6ac5a"/>
<rect x="519.1" y="417.2" width="7.6" height="19" fill="#b4b4c4"/>
<rect x="519.1" y="419" width="7.6" height="15.4" fill="#c49a82"/>
<rect x="525.3000000000001" y="417.2" width="1.4" height="19" fill="#2a2a30"/>
<rect x="527.4" y="416.3" width="8.4" height="20.8" fill="#e6ac5a"/>
<rect x="527.8" y="417.2" width="7.6" height="19" fill="#b4b4c4"/>
<rect x="527.8" y="419" width="7.6" height="15.4" fill="#c49a82"/>
<rect x="534.0" y="417.2" width="1.4" height="19" fill="#2a2a30"/>
<rect x="501.7" y="402.1" width="9.9" height="6.6" fill="#d8b08a"/>
<rect x="504.47" y="402.8" width="4.36" height="5.20" fill="#3a3a42"/>
<rect x="505" y="415.8" width="6" height="3.2" fill="#d8b08a"/>
<rect x="506.68" y="416.5" width="2.64" height="1.80" fill="#3a3a42"/>
<rect x="443" y="438.4" width="10" height="6" fill="#d8b08a"/>
<rect x="445.80" y="439.09999999999997" width="4.40" height="4.60" fill="#3a3a42"/>
<rect x="522.5" y="477.4" width="11.5" height="6" fill="#d8b08a"/>
<rect x="525.72" y="478.09999999999997" width="5.06" height="4.60" fill="#3a3a42"/>
<rect x="510.5" y="420.2" width="4.5" height="6.5" fill="#d8b08a"/><rect x="511.3" y="422.0" width="2.9" height="3" fill="#30343a"/>
<rect x="514" y="420.2" width="4.5" height="6.5" fill="#d8b08a"/><rect x="514.8" y="422.0" width="2.9" height="3" fill="#30343a"/>
<rect x="510.5" y="441" width="4.5" height="6.5" fill="#d8b08a"/><rect x="511.3" y="442.8" width="2.9" height="3" fill="#30343a"/>
<rect x="514.5" y="445.5" width="4.5" height="6.5" fill="#d8b08a"/><rect x="515.3" y="447.3" width="2.9" height="3" fill="#30343a"/>
<rect x="542.4" y="432.3" width="6.1" height="12.2" fill="#e8b860"/><rect x="543.2" y="434.8" width="4.5" height="7" fill="#202328"/>
<rect x="489.2" y="444.8" width="3.8" height="7.6" fill="#d0a880"/><rect x="489.8" y="446.8" width="2.6" height="3.6" fill="#6a5a5a"/>
<circle cx="545.5" cy="422.9" r="1.9" fill="#f2e09c"/><circle cx="474.3" cy="440" r="1.8" fill="#f2e09c"/><circle cx="503" cy="487" r="1.9" fill="#f2e09c"/><circle cx="400" cy="500" r="1.7" fill="#f2e09c"/><circle cx="541.6" cy="581.5" r="1.6" fill="#f2e09c"/>
<ellipse cx="542.3" cy="481" rx="4.4" ry="4.6" fill="#e9b040"/><ellipse cx="542.3" cy="481" rx="2.2" ry="2.5" fill="#c29a40"/>
<rect x="501.2" y="506.5" width="4.8" height="2.2" fill="#eadba0"/>
<rect x="527" y="506.5" width="6.5" height="2.2" fill="#e6e4d4"/>
<rect x="501.2" y="509.9" width="4.8" height="2.2" fill="#eadba0"/>
<rect x="527" y="509.9" width="6.5" height="2.2" fill="#e6e4d4"/>
<rect x="501.2" y="513.4" width="4.8" height="2.2" fill="#eadba0"/>
<rect x="527" y="513.4" width="6.5" height="2.2" fill="#e6e4d4"/>
<rect x="501.2" y="516.9" width="4.8" height="2.2" fill="#eadba0"/>
<rect x="527" y="516.9" width="6.5" height="2.2" fill="#e6e4d4"/>
<rect x="501.2" y="520.3" width="4.8" height="2.2" fill="#eadba0"/>
<rect x="527" y="520.3" width="6.5" height="2.2" fill="#e6e4d4"/>
<rect x="501.2" y="523.8" width="4.8" height="2.2" fill="#eadba0"/>
<rect x="527" y="523.8" width="6.5" height="2.2" fill="#e6e4d4"/>
<rect x="501.2" y="527.2" width="4.8" height="2.2" fill="#eadba0"/>
<rect x="527" y="527.2" width="6.5" height="2.2" fill="#e6e4d4"/>
<rect x="501.2" y="530.6" width="4.8" height="2.2" fill="#eadba0"/>
<rect x="527" y="530.6" width="6.5" height="2.2" fill="#e6e4d4"/>
<rect x="501.2" y="534.1" width="4.8" height="2.2" fill="#eadba0"/>
<rect x="527" y="534.1" width="6.5" height="2.2" fill="#e6e4d4"/>
<rect x="501.2" y="537.5" width="4.8" height="2.2" fill="#eadba0"/>
<rect x="527" y="537.5" width="6.5" height="2.2" fill="#e6e4d4"/>
<rect x="501.2" y="541.0" width="4.8" height="2.2" fill="#eadba0"/>
<rect x="527" y="541.0" width="6.5" height="2.2" fill="#e6e4d4"/>
<rect x="501.2" y="544.5" width="4.8" height="2.2" fill="#eadba0"/>
<rect x="527" y="544.5" width="6.5" height="2.2" fill="#e6e4d4"/>
<rect x="505.9" y="505.2" width="21.2" height="42.4" fill="#1d1f23"/>
<circle cx="508.6" cy="544" r="1" fill="#e0e0e0"/>
<rect x="490" y="500.0" width="6" height="3.4" fill="#cdb08c"/><rect x="491.6" y="500.6" width="2.8" height="2.2" fill="#2e3640"/>
<rect x="541" y="506.0" width="6.6" height="3.4" fill="#cdb08c"/><rect x="542.6" y="506.6" width="3" height="2.2" fill="#2e3640"/>
<rect x="490" y="504.4" width="6" height="3.4" fill="#cdb08c"/><rect x="491.6" y="505.0" width="2.8" height="2.2" fill="#2e3640"/>
<rect x="541" y="510.4" width="6.6" height="3.4" fill="#cdb08c"/><rect x="542.6" y="511.0" width="3" height="2.2" fill="#2e3640"/>
<rect x="490" y="508.8" width="6" height="3.4" fill="#cdb08c"/><rect x="491.6" y="509.4" width="2.8" height="2.2" fill="#2e3640"/>
<rect x="541" y="514.8" width="6.6" height="3.4" fill="#cdb08c"/><rect x="542.6" y="515.4" width="3" height="2.2" fill="#2e3640"/>
<rect x="490" y="513.2" width="6" height="3.4" fill="#cdb08c"/><rect x="491.6" y="513.8" width="2.8" height="2.2" fill="#2e3640"/>
<rect x="541" y="519.2" width="6.6" height="3.4" fill="#cdb08c"/><rect x="542.6" y="519.8" width="3" height="2.2" fill="#2e3640"/>
<rect x="490" y="517.6" width="6" height="3.4" fill="#cdb08c"/><rect x="491.6" y="518.2" width="2.8" height="2.2" fill="#2e3640"/>
<rect x="541" y="523.6" width="6.6" height="3.4" fill="#cdb08c"/><rect x="542.6" y="524.2" width="3" height="2.2" fill="#2e3640"/>
<rect x="490" y="522.0" width="6" height="3.4" fill="#cdb08c"/><rect x="491.6" y="522.6" width="2.8" height="2.2" fill="#2e3640"/>
<rect x="541" y="528.0" width="6.6" height="3.4" fill="#cdb08c"/><rect x="542.6" y="528.6" width="3" height="2.2" fill="#2e3640"/>
<rect x="490" y="526.4" width="6" height="3.4" fill="#cdb08c"/><rect x="491.6" y="527.0" width="2.8" height="2.2" fill="#2e3640"/>
<rect x="541" y="532.4" width="6.6" height="3.4" fill="#cdb08c"/><rect x="542.6" y="533.0" width="3" height="2.2" fill="#2e3640"/>
<rect x="490" y="530.8" width="6" height="3.4" fill="#cdb08c"/><rect x="491.6" y="531.4" width="2.8" height="2.2" fill="#2e3640"/>
<rect x="541" y="536.8" width="6.6" height="3.4" fill="#cdb08c"/><rect x="542.6" y="537.4" width="3" height="2.2" fill="#2e3640"/>
<rect x="490" y="535.2" width="6" height="3.4" fill="#cdb08c"/><rect x="491.6" y="535.8" width="2.8" height="2.2" fill="#2e3640"/>
<rect x="541" y="541.2" width="6.6" height="3.4" fill="#cdb08c"/><rect x="542.6" y="541.8" width="3" height="2.2" fill="#2e3640"/>
<rect x="534.5" y="559.2" width="5" height="2.2" fill="#e6e0c4"/>
<rect x="534.5" y="562.8" width="5" height="2.2" fill="#e6e0c4"/>
<rect x="534.5" y="566.4" width="5" height="2.2" fill="#e6e0c4"/>
<rect x="534.5" y="570.0" width="5" height="2.2" fill="#e6e0c4"/>
<rect x="510.2" y="557" width="3.4" height="17" fill="#e9dca8"/>
<rect x="513.5" y="557.4" width="21.2" height="15.9" fill="#1d1f23"/>
<rect x="500.5" y="547" width="4.5" height="7" fill="#d8b08a"/>
<rect x="501.76" y="547.7" width="1.98" height="5.60" fill="#3a3a42"/>
<rect x="512" y="548.5" width="9" height="5" fill="#d8b08a"/>
<rect x="514.52" y="549.2" width="3.96" height="3.60" fill="#3a3a42"/>
<rect x="521.5" y="548" width="7" height="5" fill="#d8b08a"/>
<rect x="523.46" y="548.7" width="3.08" height="3.60" fill="#3a3a42"/>
<rect x="529" y="547.5" width="4" height="6" fill="#d8b08a"/>
<rect x="530.12" y="548.2" width="1.76" height="4.60" fill="#3a3a42"/>
<rect x="500.5" y="562.5" width="7" height="5" fill="#d8b08a"/>
<rect x="502.46" y="563.2" width="3.08" height="3.60" fill="#3a3a42"/>
<rect x="510.5" y="573.5" width="6" height="4.5" fill="#d8b08a"/>
<rect x="512.18" y="574.2" width="2.64" height="3.10" fill="#3a3a42"/>
<rect x="553.6" y="513.5" width="6.6" height="29.5" fill="#202327"/><rect x="553.6" y="513.5" width="1.6" height="29.5" fill="#454a50"/>
<polyline points="210.2,34.4 257.7,34.4 310,157.7" fill="none" stroke="#0a9ab2" stroke-width="1.7" stroke-linejoin="miter"/>
<polyline points="442,8.5 428.9,8.5 355.8,95" fill="none" stroke="#0a9ab2" stroke-width="1.7" stroke-linejoin="miter"/>
<polyline points="146.3,209.6 257.4,209.6" fill="none" stroke="#0a9ab2" stroke-width="1.7" stroke-linejoin="miter"/>
<polyline points="316.2,293.7 330.5,293.7 378.3,168.8" fill="none" stroke="#0a9ab2" stroke-width="1.7" stroke-linejoin="miter"/>
<polyline points="330.5,293.7 386,225.7" fill="none" stroke="#0a9ab2" stroke-width="1.7" stroke-linejoin="miter"/>
<polyline points="678,94 585.4,94 542.4,127.7" fill="none" stroke="#0a9ab2" stroke-width="1.7" stroke-linejoin="miter"/>
<polyline points="224.4,364.6 340.2,364.6 386.3,403.6" fill="none" stroke="#0a9ab2" stroke-width="1.7" stroke-linejoin="miter"/>
<polyline points="148.4,523.4 224.4,523.4 393.8,466.9" fill="none" stroke="#0a9ab2" stroke-width="1.7" stroke-linejoin="miter"/>
<polyline points="625.3,346.6 500,346.6 500,435.7" fill="none" stroke="#0a9ab2" stroke-width="1.7" stroke-linejoin="miter"/>
<polyline points="591.2,516.8 517,516.8" fill="none" stroke="#0a9ab2" stroke-width="1.7" stroke-linejoin="miter"/>
<text x="11.6" y="37.6" font-size="12.3" font-weight="bold" fill="#141414" textLength="189" lengthAdjust="spacingAndGlyphs">Up to four Individual Sensor Ports</text>
<text x="11.5" y="53" font-size="11.2" fill="#383838" textLength="181.5" lengthAdjust="spacingAndGlyphs">All signals are available on each port</text>
<rect x="11.0" y="60.55" width="6.5" height="6.5" fill="#0aa5bc"/>
<text x="31.5" y="67.9" font-size="11.2" fill="#383838" textLength="112.6" lengthAdjust="spacingAndGlyphs">Generic Power Supply</text>
<rect x="11.0" y="74.51" width="6.5" height="6.5" fill="#0aa5bc"/>
<text x="31.5" y="81.86000000000001" font-size="11.2" fill="#383838" textLength="84.1" lengthAdjust="spacingAndGlyphs">4 - 8 Data Lanes</text>
<rect x="11.0" y="88.47" width="6.5" height="6.5" fill="#0aa5bc"/>
<text x="31.5" y="95.82000000000001" font-size="11.2" fill="#383838" textLength="83" lengthAdjust="spacingAndGlyphs">Reference Clock</text>
<rect x="11.0" y="102.43" width="6.5" height="6.5" fill="#0aa5bc"/>
<text x="31.5" y="109.78" font-size="11.2" fill="#383838" textLength="118.5" lengthAdjust="spacingAndGlyphs">Synchronization Signals</text>
<rect x="11.0" y="116.39" width="6.5" height="6.5" fill="#0aa5bc"/>
<text x="31.5" y="123.74000000000001" font-size="11.2" fill="#383838" textLength="133.3" lengthAdjust="spacingAndGlyphs">Communication (I2C / SPI)</text>
<rect x="11.0" y="130.35" width="6.5" height="6.5" fill="#0aa5bc"/>
<text x="31.5" y="137.70000000000002" font-size="11.2" fill="#383838" textLength="71.9" lengthAdjust="spacingAndGlyphs">Further GPIOs</text>
<text x="11.6" y="214.6" font-size="12.3" font-weight="bold" fill="#141414" textLength="127.4" lengthAdjust="spacingAndGlyphs">Configurable EEPROM</text>
<rect x="11.0" y="221.95" width="6.5" height="6.5" fill="#0aa5bc"/>
<text x="31.5" y="229.3" font-size="11.2" fill="#383838" textLength="94.4" lengthAdjust="spacingAndGlyphs">Hardware Identifier</text>
<rect x="11.0" y="236.45" width="6.5" height="6.5" fill="#0aa5bc"/>
<text x="31.5" y="243.8" font-size="11.2" fill="#383838" textLength="127.4" lengthAdjust="spacingAndGlyphs">Enable / Disable / Protect</text>
<text x="192.7" y="296.8" font-size="12.3" font-weight="bold" fill="#141414" textLength="116.9" lengthAdjust="spacingAndGlyphs">Synchronize sensors</text>
<rect x="192.4" y="305.05" width="6.5" height="6.5" fill="#0aa5bc"/>
<text x="212.7" y="312.4" font-size="11.2" fill="#383838" textLength="224" lengthAdjust="spacingAndGlyphs">Interconnect sync signals of multiple imagers</text>
<rect x="192.4" y="318.65" width="6.5" height="6.5" fill="#0aa5bc"/>
<text x="212.7" y="326.0" font-size="11.2" fill="#383838" textLength="137.3" lengthAdjust="spacingAndGlyphs">Includes: XVS, XHS, MCLK</text>
<text x="447.2" y="13.7" font-size="12.3" font-weight="bold" fill="#141414" textLength="194.1" lengthAdjust="spacingAndGlyphs">Test Points for All Relevant Signals</text>
<rect x="446.6" y="21.25" width="6.5" height="6.5" fill="#0aa5bc"/>
<text x="467.2" y="28.6" font-size="11.2" fill="#383838" textLength="160.4" lengthAdjust="spacingAndGlyphs">Clocks, Synchronization Signals</text>
<rect x="446.6" y="35.20" width="6.5" height="6.5" fill="#0aa5bc"/>
<text x="467.2" y="42.55" font-size="11.2" fill="#383838" textLength="79.8" lengthAdjust="spacingAndGlyphs">Communication</text>
<rect x="446.6" y="49.15" width="6.5" height="6.5" fill="#0aa5bc"/>
<text x="467.2" y="56.5" font-size="11.2" fill="#383838" textLength="71.4" lengthAdjust="spacingAndGlyphs">Further GPIOs</text>
<text x="686.9" y="98.8" font-size="12.3" font-weight="bold" fill="#141414" textLength="147.3" lengthAdjust="spacingAndGlyphs">External Trigger Input Line</text>
<rect x="685.1" y="106.55" width="6.5" height="6.5" fill="#0aa5bc"/>
<text x="705.7" y="113.9" font-size="11.2" fill="#383838" textLength="100.8" lengthAdjust="spacingAndGlyphs">Optionally equipped</text>
<text x="11.6" y="369.9" font-size="12.3" font-weight="bold" fill="#141414" textLength="206.2" lengthAdjust="spacingAndGlyphs">Processor Board Specific Connector</text>
<rect x="11.0" y="377.25" width="6.5" height="6.5" fill="#0aa5bc"/>
<text x="31.5" y="384.6" font-size="11.2" fill="#383838" textLength="166.7" lengthAdjust="spacingAndGlyphs">FPA Lineup for Multiple Platforms</text>
<rect x="11.0" y="391.30" width="6.5" height="6.5" fill="#0aa5bc"/>
<text x="31.5" y="398.65000000000003" font-size="11.2" fill="#383838" textLength="132.2" lengthAdjust="spacingAndGlyphs">Routing all relevant signals</text>
<rect x="11.0" y="405.35" width="6.5" height="6.5" fill="#0aa5bc"/>
<text x="31.5" y="412.70000000000005" font-size="11.2" fill="#383838" textLength="211.7" lengthAdjust="spacingAndGlyphs">Adjusted for the capabilities of each board</text>
<text x="11.6" y="527" font-size="12.3" font-weight="bold" fill="#141414" textLength="129.7" lengthAdjust="spacingAndGlyphs">Master Clock Signaling</text>
<rect x="11.0" y="534.35" width="6.5" height="6.5" fill="#0aa5bc"/>
<text x="31.5" y="541.7" font-size="11.2" fill="#383838" textLength="191.8" lengthAdjust="spacingAndGlyphs">Drive multiple sensors with one or two</text>
<text x="31.5" y="555.6" font-size="11.2" fill="#383838" textLength="69.5" lengthAdjust="spacingAndGlyphs">clock sources</text>
<rect x="11.0" y="562.55" width="6.5" height="6.5" fill="#0aa5bc"/>
<text x="31.5" y="569.9" font-size="11.2" fill="#383838" textLength="148.4" lengthAdjust="spacingAndGlyphs">Ensure highest signal integrity</text>
<text x="630.3" y="350.8" font-size="12.3" font-weight="bold" fill="#141414" textLength="97.1" lengthAdjust="spacingAndGlyphs">Main Power Rails</text>
<rect x="629.3" y="360.6" width="6.5" height="6.5" fill="#0aa5bc"/>
<text x="649.4" y="366.4" font-size="11.2" fill="#383838" textLength="185.9" lengthAdjust="spacingAndGlyphs">Sourcing FSAs with processor board</text>
<text x="649.4" y="380.8" font-size="11.2" fill="#383838" textLength="108" lengthAdjust="spacingAndGlyphs">independent voltages</text>
<text x="597" y="521.2" font-size="12.3" font-weight="bold" fill="#141414" textLength="88.9" lengthAdjust="spacingAndGlyphs">I2C Multiplexing</text>
<rect x="597.0" y="529.45" width="6.5" height="6.5" fill="#0aa5bc"/>
<text x="616.5" y="537" font-size="11.2" fill="#383838" textLength="218.7" lengthAdjust="spacingAndGlyphs">Individual addressing of multiple sensors via</text>
<text x="616.5" y="550.5" font-size="11.2" fill="#383838" textLength="61.5" lengthAdjust="spacingAndGlyphs">one I2C bus</text>
</svg>
</body></html>
